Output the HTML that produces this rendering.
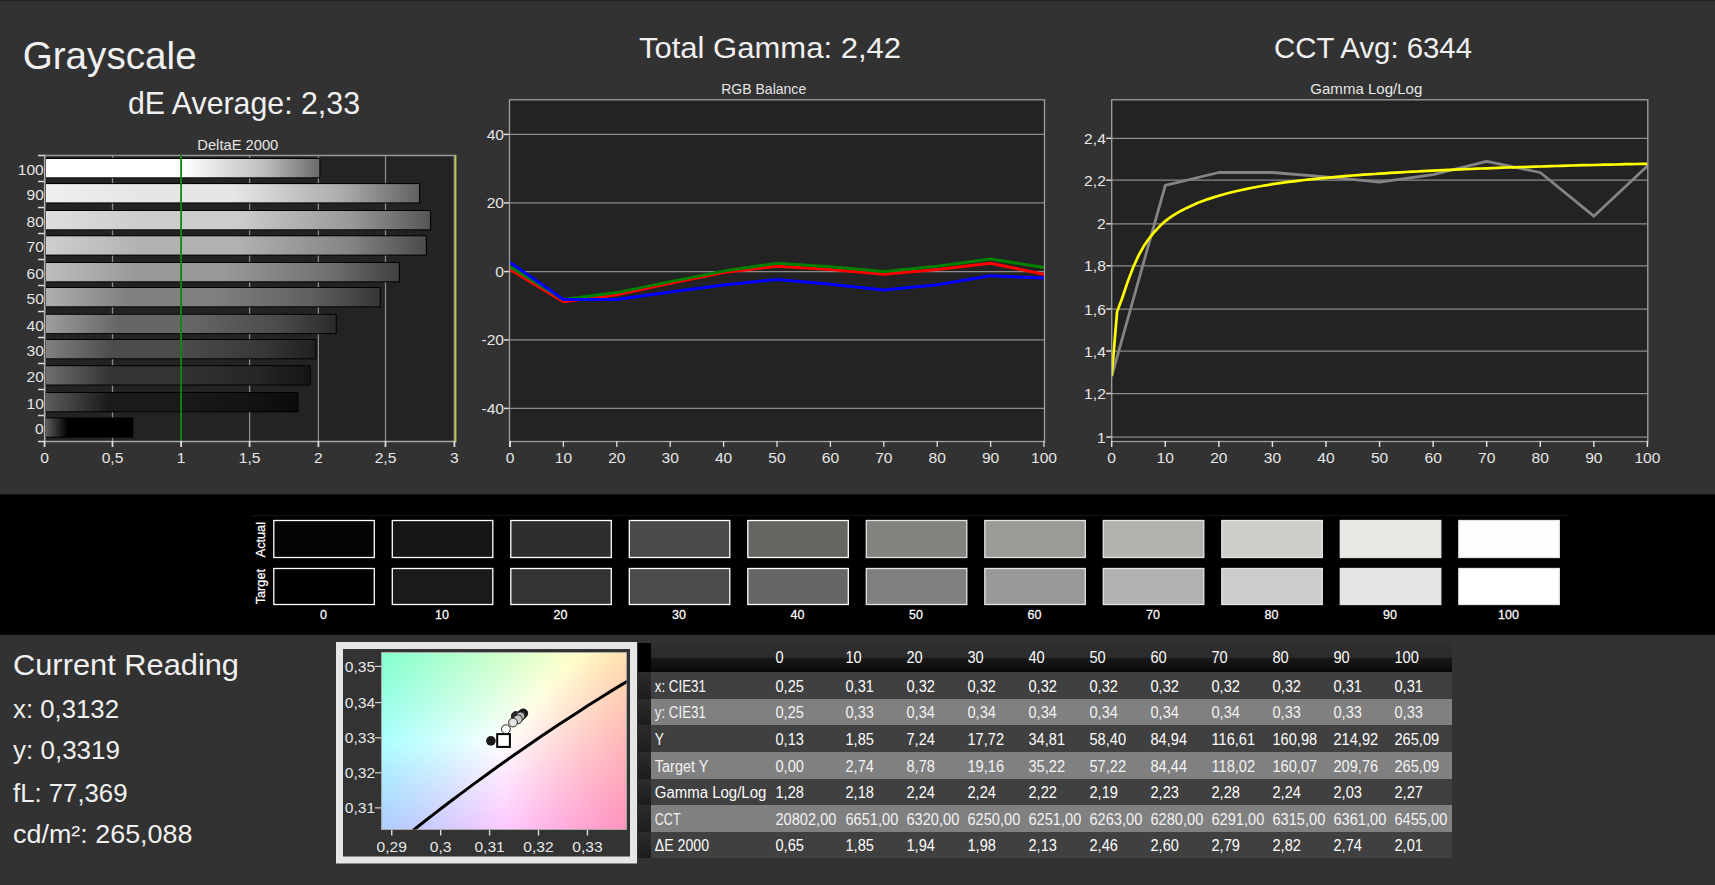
<!DOCTYPE html>
<html><head><meta charset="utf-8"><title>Grayscale</title>
<style>html,body{margin:0;padding:0;background:#323232;overflow:hidden}svg{display:block}text{font-family:"Liberation Sans", sans-serif}</style>
</head><body>
<svg width="1715" height="885" viewBox="0 0 1715 885" font-family='"Liberation Sans", sans-serif'><rect x="0" y="0" width="1715" height="885" fill="#323232" />
<rect x="0" y="0" width="1715" height="1" fill="#222" />
<rect x="0" y="494.4" width="1715" height="140.4" fill="#000" />
<text x="22.7" y="69" font-size="38.5" fill="#f0f0f0" text-anchor="start" textLength="174" lengthAdjust="spacingAndGlyphs" >Grayscale</text>
<text x="128" y="114" font-size="30.5" fill="#f0f0f0" text-anchor="start" textLength="232" lengthAdjust="spacingAndGlyphs" >dE Average: 2,33</text>
<text x="639" y="57.6" font-size="30.2" fill="#f0f0f0" text-anchor="start" textLength="262" lengthAdjust="spacingAndGlyphs" >Total Gamma: 2,42</text>
<text x="1274" y="57.6" font-size="30.2" fill="#f0f0f0" text-anchor="start" textLength="198" lengthAdjust="spacingAndGlyphs" >CCT Avg: 6344</text>
<text x="237.8" y="150" font-size="15" fill="#e6e6e6" text-anchor="middle" textLength="81" lengthAdjust="spacingAndGlyphs" >DeltaE 2000</text>
<text x="763.7" y="93.8" font-size="15" fill="#e6e6e6" text-anchor="middle" textLength="85" lengthAdjust="spacingAndGlyphs" >RGB Balance</text>
<text x="1366.3" y="93.8" font-size="15" fill="#e6e6e6" text-anchor="middle" textLength="112" lengthAdjust="spacingAndGlyphs" >Gamma Log/Log</text>
<rect x="45" y="155" width="410" height="286" fill="#232323" />
<line x1="112.5" y1="155" x2="112.5" y2="441" stroke="#8c8c8c" stroke-width="1.25" />
<line x1="249.6" y1="155" x2="249.6" y2="441" stroke="#8c8c8c" stroke-width="1.25" />
<line x1="318.4" y1="155" x2="318.4" y2="441" stroke="#8c8c8c" stroke-width="1.25" />
<line x1="385.5" y1="155" x2="385.5" y2="441" stroke="#8c8c8c" stroke-width="1.25" />
<line x1="454.4" y1="155" x2="454.4" y2="441" stroke="#8c8c8c" stroke-width="1.25" />
<line x1="44" y1="155.5" x2="456" y2="155.5" stroke="#999" stroke-width="1.4" />
<defs>
<linearGradient id="b0" x1="0" x2="1" y1="0" y2="0"><stop offset="0" stop-color="#5c5c5c"/><stop offset="0.25" stop-color="#000000"/><stop offset="0.5" stop-color="#000000"/><stop offset="0.8" stop-color="#000000"/><stop offset="1" stop-color="#000000"/></linearGradient>
<linearGradient id="b10" x1="0" x2="1" y1="0" y2="0"><stop offset="0" stop-color="#5c5c5c"/><stop offset="0.25" stop-color="#1a1a1a"/><stop offset="0.5" stop-color="#1a1a1a"/><stop offset="0.8" stop-color="#131313"/><stop offset="1" stop-color="#0b0b0b"/></linearGradient>
<linearGradient id="b20" x1="0" x2="1" y1="0" y2="0"><stop offset="0" stop-color="#6e6e6e"/><stop offset="0.25" stop-color="#333333"/><stop offset="0.5" stop-color="#333333"/><stop offset="0.8" stop-color="#262626"/><stop offset="1" stop-color="#151515"/></linearGradient>
<linearGradient id="b30" x1="0" x2="1" y1="0" y2="0"><stop offset="0" stop-color="#808080"/><stop offset="0.25" stop-color="#4c4c4c"/><stop offset="0.5" stop-color="#4c4c4c"/><stop offset="0.8" stop-color="#383838"/><stop offset="1" stop-color="#202020"/></linearGradient>
<linearGradient id="b40" x1="0" x2="1" y1="0" y2="0"><stop offset="0" stop-color="#9d9d9d"/><stop offset="0.25" stop-color="#666666"/><stop offset="0.5" stop-color="#666666"/><stop offset="0.8" stop-color="#4b4b4b"/><stop offset="1" stop-color="#2b2b2b"/></linearGradient>
<linearGradient id="b50" x1="0" x2="1" y1="0" y2="0"><stop offset="0" stop-color="#aeaeae"/><stop offset="0.25" stop-color="#808080"/><stop offset="0.5" stop-color="#808080"/><stop offset="0.8" stop-color="#5f5f5f"/><stop offset="1" stop-color="#363636"/></linearGradient>
<linearGradient id="b60" x1="0" x2="1" y1="0" y2="0"><stop offset="0" stop-color="#bebebe"/><stop offset="0.25" stop-color="#999999"/><stop offset="0.5" stop-color="#999999"/><stop offset="0.8" stop-color="#717171"/><stop offset="1" stop-color="#404040"/></linearGradient>
<linearGradient id="b70" x1="0" x2="1" y1="0" y2="0"><stop offset="0" stop-color="#cecece"/><stop offset="0.25" stop-color="#b2b2b2"/><stop offset="0.5" stop-color="#b2b2b2"/><stop offset="0.8" stop-color="#848484"/><stop offset="1" stop-color="#4b4b4b"/></linearGradient>
<linearGradient id="b80" x1="0" x2="1" y1="0" y2="0"><stop offset="0" stop-color="#dedede"/><stop offset="0.25" stop-color="#cccccc"/><stop offset="0.5" stop-color="#cccccc"/><stop offset="0.8" stop-color="#979797"/><stop offset="1" stop-color="#565656"/></linearGradient>
<linearGradient id="b90" x1="0" x2="1" y1="0" y2="0"><stop offset="0" stop-color="#efefef"/><stop offset="0.25" stop-color="#e6e6e6"/><stop offset="0.5" stop-color="#e6e6e6"/><stop offset="0.8" stop-color="#aaaaaa"/><stop offset="1" stop-color="#616161"/></linearGradient>
<linearGradient id="b100" x1="0" x2="1" y1="0" y2="0"><stop offset="0" stop-color="#ffffff"/><stop offset="0.25" stop-color="#ffffff"/><stop offset="0.5" stop-color="#ffffff"/><stop offset="0.8" stop-color="#bdbdbd"/><stop offset="1" stop-color="#6b6b6b"/></linearGradient>
</defs>
<rect x="45" y="158" width="275.348" height="20.3" fill="#000" />
<rect x="46" y="159" width="273.348" height="18.3" fill="url(#b100)" />
<text transform="translate(43.8,174.9) scale(1.04,1)" font-size="15" fill="#e6e6e6" text-anchor="end" >100</text>
<rect x="45" y="183.1" width="374.993" height="20.3" fill="#000" />
<rect x="46" y="184.1" width="372.993" height="18.3" fill="url(#b90)" />
<text transform="translate(43.8,200) scale(1.04,1)" font-size="15" fill="#e6e6e6" text-anchor="end" >90</text>
<rect x="45" y="210" width="385.913" height="20.3" fill="#000" />
<rect x="46" y="211" width="383.913" height="18.3" fill="url(#b80)" />
<text transform="translate(43.8,226.9) scale(1.04,1)" font-size="15" fill="#e6e6e6" text-anchor="end" >80</text>
<rect x="45" y="235.3" width="381.817" height="20.3" fill="#000" />
<rect x="46" y="236.3" width="379.817" height="18.3" fill="url(#b70)" />
<text transform="translate(43.8,252.2) scale(1.04,1)" font-size="15" fill="#e6e6e6" text-anchor="end" >70</text>
<rect x="45" y="262" width="354.927" height="20.3" fill="#000" />
<rect x="46" y="263" width="352.927" height="18.3" fill="url(#b60)" />
<text transform="translate(43.8,278.9) scale(1.04,1)" font-size="15" fill="#e6e6e6" text-anchor="end" >60</text>
<rect x="45" y="287" width="335.68" height="20.3" fill="#000" />
<rect x="46" y="288" width="333.68" height="18.3" fill="url(#b50)" />
<text transform="translate(43.8,303.9) scale(1.04,1)" font-size="15" fill="#e6e6e6" text-anchor="end" >50</text>
<rect x="45" y="313.8" width="291.727" height="20.3" fill="#000" />
<rect x="46" y="314.8" width="289.727" height="18.3" fill="url(#b40)" />
<text transform="translate(43.8,330.7) scale(1.04,1)" font-size="15" fill="#e6e6e6" text-anchor="end" >40</text>
<rect x="45" y="339" width="271.252" height="20.3" fill="#000" />
<rect x="46" y="340" width="269.252" height="18.3" fill="url(#b30)" />
<text transform="translate(43.8,355.9) scale(1.04,1)" font-size="15" fill="#e6e6e6" text-anchor="end" >30</text>
<rect x="45" y="365.2" width="265.793" height="20.3" fill="#000" />
<rect x="46" y="366.2" width="263.793" height="18.3" fill="url(#b20)" />
<text transform="translate(43.8,382.1) scale(1.04,1)" font-size="15" fill="#e6e6e6" text-anchor="end" >20</text>
<rect x="45" y="392" width="253.508" height="20.3" fill="#000" />
<rect x="46" y="393" width="251.508" height="18.3" fill="url(#b10)" />
<text transform="translate(43.8,408.9) scale(1.04,1)" font-size="15" fill="#e6e6e6" text-anchor="end" >10</text>
<rect x="45" y="417.4" width="88.3425" height="20.3" fill="#000" />
<rect x="46" y="418.4" width="86.3425" height="18.3" fill="url(#b0)" />
<text transform="translate(43.8,434.3) scale(1.04,1)" font-size="15" fill="#e6e6e6" text-anchor="end" >0</text>
<line x1="38" y1="155.5" x2="45" y2="155.5" stroke="#ddd" stroke-width="1.5" />
<line x1="38" y1="181.5" x2="45" y2="181.5" stroke="#ddd" stroke-width="1.5" />
<line x1="38" y1="207.5" x2="45" y2="207.5" stroke="#ddd" stroke-width="1.5" />
<line x1="38" y1="233.5" x2="45" y2="233.5" stroke="#ddd" stroke-width="1.5" />
<line x1="38" y1="259.5" x2="45" y2="259.5" stroke="#ddd" stroke-width="1.5" />
<line x1="38" y1="285.5" x2="45" y2="285.5" stroke="#ddd" stroke-width="1.5" />
<line x1="38" y1="311.5" x2="45" y2="311.5" stroke="#ddd" stroke-width="1.5" />
<line x1="38" y1="337.5" x2="45" y2="337.5" stroke="#ddd" stroke-width="1.5" />
<line x1="38" y1="363.5" x2="45" y2="363.5" stroke="#ddd" stroke-width="1.5" />
<line x1="38" y1="389.5" x2="45" y2="389.5" stroke="#ddd" stroke-width="1.5" />
<line x1="38" y1="415.5" x2="45" y2="415.5" stroke="#ddd" stroke-width="1.5" />
<line x1="38" y1="441.5" x2="45" y2="441.5" stroke="#ddd" stroke-width="1.5" />
<line x1="181.1" y1="155" x2="181.1" y2="442" stroke="#0a8a0a" stroke-width="1.8" />
<line x1="44.7" y1="155" x2="44.7" y2="442" stroke="#b4b4b4" stroke-width="1.6" />
<line x1="44" y1="441.4" x2="456" y2="441.4" stroke="#a8a8a8" stroke-width="1.5" />
<line x1="454.4" y1="155" x2="454.4" y2="441" stroke="#909090" stroke-width="1.2" />
<line x1="455.7" y1="155" x2="455.7" y2="442" stroke="#c8c840" stroke-width="1.4" />
<line x1="44.5" y1="441" x2="44.5" y2="447" stroke="#ddd" stroke-width="1.8" />
<text transform="translate(44.5,463) scale(1.04,1)" font-size="15" fill="#e6e6e6" text-anchor="middle" >0</text>
<line x1="112.5" y1="441" x2="112.5" y2="447" stroke="#ddd" stroke-width="1.8" />
<text transform="translate(112.5,463) scale(1.04,1)" font-size="15" fill="#e6e6e6" text-anchor="middle" >0,5</text>
<line x1="181.1" y1="441" x2="181.1" y2="447" stroke="#ddd" stroke-width="1.8" />
<text transform="translate(181.1,463) scale(1.04,1)" font-size="15" fill="#e6e6e6" text-anchor="middle" >1</text>
<line x1="249.6" y1="441" x2="249.6" y2="447" stroke="#ddd" stroke-width="1.8" />
<text transform="translate(249.6,463) scale(1.04,1)" font-size="15" fill="#e6e6e6" text-anchor="middle" >1,5</text>
<line x1="318.4" y1="441" x2="318.4" y2="447" stroke="#ddd" stroke-width="1.8" />
<text transform="translate(318.4,463) scale(1.04,1)" font-size="15" fill="#e6e6e6" text-anchor="middle" >2</text>
<line x1="385.5" y1="441" x2="385.5" y2="447" stroke="#ddd" stroke-width="1.8" />
<text transform="translate(385.5,463) scale(1.04,1)" font-size="15" fill="#e6e6e6" text-anchor="middle" >2,5</text>
<line x1="454.4" y1="441" x2="454.4" y2="447" stroke="#ddd" stroke-width="1.8" />
<text transform="translate(454.4,463) scale(1.04,1)" font-size="15" fill="#e6e6e6" text-anchor="middle" >3</text>
<rect x="510" y="99.3" width="534" height="341.7" fill="#232323" />
<line x1="510" y1="134.4" x2="1044" y2="134.4" stroke="#8c8c8c" stroke-width="1.25" />
<line x1="504" y1="134.4" x2="510" y2="134.4" stroke="#e0e0e0" stroke-width="1.5" />
<text transform="translate(504,139.7) scale(1.04,1)" font-size="15" fill="#e6e6e6" text-anchor="end" >40</text>
<line x1="510" y1="202.9" x2="1044" y2="202.9" stroke="#8c8c8c" stroke-width="1.25" />
<line x1="504" y1="202.9" x2="510" y2="202.9" stroke="#e0e0e0" stroke-width="1.5" />
<text transform="translate(504,208.2) scale(1.04,1)" font-size="15" fill="#e6e6e6" text-anchor="end" >20</text>
<line x1="510" y1="271.6" x2="1044" y2="271.6" stroke="#8c8c8c" stroke-width="1.25" />
<line x1="504" y1="271.6" x2="510" y2="271.6" stroke="#e0e0e0" stroke-width="1.5" />
<text transform="translate(504,276.9) scale(1.04,1)" font-size="15" fill="#e6e6e6" text-anchor="end" >0</text>
<line x1="510" y1="339.9" x2="1044" y2="339.9" stroke="#8c8c8c" stroke-width="1.25" />
<line x1="504" y1="339.9" x2="510" y2="339.9" stroke="#e0e0e0" stroke-width="1.5" />
<text transform="translate(504,345.2) scale(1.04,1)" font-size="15" fill="#e6e6e6" text-anchor="end" >-20</text>
<line x1="510" y1="408.4" x2="1044" y2="408.4" stroke="#8c8c8c" stroke-width="1.25" />
<line x1="504" y1="408.4" x2="510" y2="408.4" stroke="#e0e0e0" stroke-width="1.5" />
<text transform="translate(504,413.7) scale(1.04,1)" font-size="15" fill="#e6e6e6" text-anchor="end" >-40</text>
<clipPath id="rc"><rect x="510" y="99.3" width="534" height="341.7"/></clipPath>
<polyline points="510.0,269.4 563.4,301.7 616.8,294.7 670.2,283.4 723.6,272.5 777.0,266.2 830.4,269.4 883.8,274.3 937.2,269.4 990.6,263.2 1044.0,274.3" fill="none" stroke="#ff0000" stroke-width="3" stroke-linejoin="round" clip-path="url(#rc)"/>
<polyline points="510.0,266.7 563.4,299.6 616.8,292.6 670.2,281.6 723.6,271.1 777.0,263.2 830.4,266.7 883.8,271.5 937.2,266.2 990.6,258.9 1044.0,267.6" fill="none" stroke="#008000" stroke-width="3" stroke-linejoin="round" clip-path="url(#rc)"/>
<polyline points="510.0,262.4 563.4,299.6 616.8,299.6 670.2,292.0 723.6,285.0 777.0,279.5 830.4,284.2 883.8,290.0 937.2,284.7 990.6,275.8 1044.0,278.1" fill="none" stroke="#0000ff" stroke-width="3" stroke-linejoin="round" clip-path="url(#rc)"/>
<rect x="509.5" y="99.8" width="535" height="341.7" fill="none" stroke="#a0a0a0" stroke-width="1.3"/>
<line x1="510" y1="441" x2="510" y2="447" stroke="#ddd" stroke-width="2" />
<text transform="translate(510,463.3) scale(1.04,1)" font-size="15" fill="#e6e6e6" text-anchor="middle" >0</text>
<line x1="563.4" y1="441" x2="563.4" y2="447" stroke="#ddd" stroke-width="1.3" />
<text transform="translate(563.4,463.3) scale(1.04,1)" font-size="15" fill="#e6e6e6" text-anchor="middle" >10</text>
<line x1="616.8" y1="441" x2="616.8" y2="447" stroke="#ddd" stroke-width="1.3" />
<text transform="translate(616.8,463.3) scale(1.04,1)" font-size="15" fill="#e6e6e6" text-anchor="middle" >20</text>
<line x1="670.2" y1="441" x2="670.2" y2="447" stroke="#ddd" stroke-width="1.3" />
<text transform="translate(670.2,463.3) scale(1.04,1)" font-size="15" fill="#e6e6e6" text-anchor="middle" >30</text>
<line x1="723.6" y1="441" x2="723.6" y2="447" stroke="#ddd" stroke-width="1.3" />
<text transform="translate(723.6,463.3) scale(1.04,1)" font-size="15" fill="#e6e6e6" text-anchor="middle" >40</text>
<line x1="777" y1="441" x2="777" y2="447" stroke="#ddd" stroke-width="1.3" />
<text transform="translate(777,463.3) scale(1.04,1)" font-size="15" fill="#e6e6e6" text-anchor="middle" >50</text>
<line x1="830.4" y1="441" x2="830.4" y2="447" stroke="#ddd" stroke-width="1.3" />
<text transform="translate(830.4,463.3) scale(1.04,1)" font-size="15" fill="#e6e6e6" text-anchor="middle" >60</text>
<line x1="883.8" y1="441" x2="883.8" y2="447" stroke="#ddd" stroke-width="1.3" />
<text transform="translate(883.8,463.3) scale(1.04,1)" font-size="15" fill="#e6e6e6" text-anchor="middle" >70</text>
<line x1="937.2" y1="441" x2="937.2" y2="447" stroke="#ddd" stroke-width="1.3" />
<text transform="translate(937.2,463.3) scale(1.04,1)" font-size="15" fill="#e6e6e6" text-anchor="middle" >80</text>
<line x1="990.6" y1="441" x2="990.6" y2="447" stroke="#ddd" stroke-width="1.3" />
<text transform="translate(990.6,463.3) scale(1.04,1)" font-size="15" fill="#e6e6e6" text-anchor="middle" >90</text>
<line x1="1044" y1="441" x2="1044" y2="447" stroke="#ddd" stroke-width="1.3" />
<text transform="translate(1044,463.3) scale(1.04,1)" font-size="15" fill="#e6e6e6" text-anchor="middle" >100</text>
<rect x="1112.2" y="99.3" width="535.1" height="341.7" fill="#232323" />
<line x1="1112.2" y1="437.1" x2="1647.3" y2="437.1" stroke="#8c8c8c" stroke-width="1.25" />
<line x1="1106.2" y1="437.1" x2="1112.2" y2="437.1" stroke="#e0e0e0" stroke-width="1.5" />
<text transform="translate(1105.8,442.7) scale(1.04,1)" font-size="15" fill="#e6e6e6" text-anchor="end" >1</text>
<line x1="1112.2" y1="393.5" x2="1647.3" y2="393.5" stroke="#8c8c8c" stroke-width="1.25" />
<line x1="1106.2" y1="393.5" x2="1112.2" y2="393.5" stroke="#e0e0e0" stroke-width="1.5" />
<text transform="translate(1105.8,399.1) scale(1.04,1)" font-size="15" fill="#e6e6e6" text-anchor="end" >1,2</text>
<line x1="1112.2" y1="351" x2="1647.3" y2="351" stroke="#8c8c8c" stroke-width="1.25" />
<line x1="1106.2" y1="351" x2="1112.2" y2="351" stroke="#e0e0e0" stroke-width="1.5" />
<text transform="translate(1105.8,356.6) scale(1.04,1)" font-size="15" fill="#e6e6e6" text-anchor="end" >1,4</text>
<line x1="1112.2" y1="309" x2="1647.3" y2="309" stroke="#8c8c8c" stroke-width="1.25" />
<line x1="1106.2" y1="309" x2="1112.2" y2="309" stroke="#e0e0e0" stroke-width="1.5" />
<text transform="translate(1105.8,314.6) scale(1.04,1)" font-size="15" fill="#e6e6e6" text-anchor="end" >1,6</text>
<line x1="1112.2" y1="265.8" x2="1647.3" y2="265.8" stroke="#8c8c8c" stroke-width="1.25" />
<line x1="1106.2" y1="265.8" x2="1112.2" y2="265.8" stroke="#e0e0e0" stroke-width="1.5" />
<text transform="translate(1105.8,271.4) scale(1.04,1)" font-size="15" fill="#e6e6e6" text-anchor="end" >1,8</text>
<line x1="1112.2" y1="223.8" x2="1647.3" y2="223.8" stroke="#8c8c8c" stroke-width="1.25" />
<line x1="1106.2" y1="223.8" x2="1112.2" y2="223.8" stroke="#e0e0e0" stroke-width="1.5" />
<text transform="translate(1105.8,229.4) scale(1.04,1)" font-size="15" fill="#e6e6e6" text-anchor="end" >2</text>
<line x1="1112.2" y1="180.2" x2="1647.3" y2="180.2" stroke="#8c8c8c" stroke-width="1.25" />
<line x1="1106.2" y1="180.2" x2="1112.2" y2="180.2" stroke="#e0e0e0" stroke-width="1.5" />
<text transform="translate(1105.8,185.8) scale(1.04,1)" font-size="15" fill="#e6e6e6" text-anchor="end" >2,2</text>
<line x1="1112.2" y1="138.3" x2="1647.3" y2="138.3" stroke="#8c8c8c" stroke-width="1.25" />
<line x1="1106.2" y1="138.3" x2="1112.2" y2="138.3" stroke="#e0e0e0" stroke-width="1.5" />
<text transform="translate(1105.8,143.9) scale(1.04,1)" font-size="15" fill="#e6e6e6" text-anchor="end" >2,4</text>
<clipPath id="gc"><rect x="1111.2" y="99.3" width="537.0999999999999" height="341.7"/></clipPath>
<polyline points="1111.7,376.1 1165.3,185.3 1218.8,172.5 1272.4,172.5 1326.0,176.8 1379.6,182.1 1433.1,174.6 1486.7,161.4 1540.3,172.5 1593.8,216.2 1647.4,166.1" fill="none" stroke="#848484" stroke-width="2.8" stroke-linejoin="round" clip-path="url(#gc)"/>
<polyline points="1111.7,376.1 1117.1,311.6 1122.4,297.5 1127.8,281.4 1133.1,267.5 1138.5,255.6 1143.8,246.1 1149.2,238.3 1154.6,231.7 1159.9,226.1 1165.3,221.1 1170.6,217.2 1176.0,213.7 1181.3,210.7 1186.7,207.9 1192.1,205.4 1197.4,203.1 1202.8,201.0 1208.1,199.1 1213.5,197.4 1218.8,195.7 1224.2,194.2 1229.6,192.8 1234.9,191.5 1240.3,190.3 1245.6,189.1 1251.0,188.0 1256.3,187.0 1261.7,186.0 1267.1,185.1 1272.4,184.2 1277.8,183.4 1283.1,182.6 1288.5,181.9 1293.8,181.3 1299.2,180.6 1304.6,180.0 1309.9,179.4 1315.3,178.8 1320.6,178.3 1326.0,177.8 1331.3,177.3 1336.7,176.8 1342.1,176.4 1347.4,175.9 1352.8,175.5 1358.1,175.1 1363.5,174.7 1368.8,174.3 1374.2,174.0 1379.6,173.6 1384.9,173.3 1390.3,172.9 1395.6,172.6 1401.0,172.3 1406.3,172.0 1411.7,171.7 1417.0,171.5 1422.4,171.2 1427.8,170.9 1433.1,170.7 1438.5,170.4 1443.8,170.1 1449.2,169.9 1454.5,169.7 1459.9,169.4 1465.3,169.2 1470.6,169.0 1476.0,168.7 1481.3,168.5 1486.7,168.3 1492.0,168.1 1497.4,167.9 1502.8,167.7 1508.1,167.5 1513.5,167.3 1518.8,167.1 1524.2,167.0 1529.5,166.8 1534.9,166.6 1540.3,166.5 1545.6,166.3 1551.0,166.1 1556.3,166.0 1561.7,165.8 1567.0,165.7 1572.4,165.5 1577.8,165.4 1583.1,165.2 1588.5,165.1 1593.8,165.0 1599.2,164.8 1604.5,164.7 1609.9,164.6 1615.3,164.5 1620.6,164.3 1626.0,164.2 1631.3,164.1 1636.7,164.0 1642.0,163.9 1647.4,163.8" fill="none" stroke="#ffff00" stroke-width="2.7" stroke-linejoin="round" clip-path="url(#gc)"/>
<rect x="1111.7" y="99.8" width="536.0999999999999" height="341.7" fill="none" stroke="#a0a0a0" stroke-width="1.3"/>
<line x1="1111.7" y1="441" x2="1111.7" y2="447" stroke="#ddd" stroke-width="1.5" />
<text transform="translate(1111.7,463.3) scale(1.04,1)" font-size="15" fill="#e6e6e6" text-anchor="middle" >0</text>
<line x1="1165.27" y1="441" x2="1165.27" y2="447" stroke="#ddd" stroke-width="1.5" />
<text transform="translate(1165.27,463.3) scale(1.04,1)" font-size="15" fill="#e6e6e6" text-anchor="middle" >10</text>
<line x1="1218.84" y1="441" x2="1218.84" y2="447" stroke="#ddd" stroke-width="1.5" />
<text transform="translate(1218.84,463.3) scale(1.04,1)" font-size="15" fill="#e6e6e6" text-anchor="middle" >20</text>
<line x1="1272.41" y1="441" x2="1272.41" y2="447" stroke="#ddd" stroke-width="1.5" />
<text transform="translate(1272.41,463.3) scale(1.04,1)" font-size="15" fill="#e6e6e6" text-anchor="middle" >30</text>
<line x1="1325.98" y1="441" x2="1325.98" y2="447" stroke="#ddd" stroke-width="1.5" />
<text transform="translate(1325.98,463.3) scale(1.04,1)" font-size="15" fill="#e6e6e6" text-anchor="middle" >40</text>
<line x1="1379.55" y1="441" x2="1379.55" y2="447" stroke="#ddd" stroke-width="1.5" />
<text transform="translate(1379.55,463.3) scale(1.04,1)" font-size="15" fill="#e6e6e6" text-anchor="middle" >50</text>
<line x1="1433.12" y1="441" x2="1433.12" y2="447" stroke="#ddd" stroke-width="1.5" />
<text transform="translate(1433.12,463.3) scale(1.04,1)" font-size="15" fill="#e6e6e6" text-anchor="middle" >60</text>
<line x1="1486.69" y1="441" x2="1486.69" y2="447" stroke="#ddd" stroke-width="1.5" />
<text transform="translate(1486.69,463.3) scale(1.04,1)" font-size="15" fill="#e6e6e6" text-anchor="middle" >70</text>
<line x1="1540.26" y1="441" x2="1540.26" y2="447" stroke="#ddd" stroke-width="1.5" />
<text transform="translate(1540.26,463.3) scale(1.04,1)" font-size="15" fill="#e6e6e6" text-anchor="middle" >80</text>
<line x1="1593.83" y1="441" x2="1593.83" y2="447" stroke="#ddd" stroke-width="1.5" />
<text transform="translate(1593.83,463.3) scale(1.04,1)" font-size="15" fill="#e6e6e6" text-anchor="middle" >90</text>
<line x1="1647.4" y1="441" x2="1647.4" y2="447" stroke="#ddd" stroke-width="1.5" />
<text transform="translate(1647.4,463.3) scale(1.04,1)" font-size="15" fill="#e6e6e6" text-anchor="middle" >100</text>
<line x1="252" y1="515.5" x2="1569" y2="515.5" stroke="#141414" stroke-width="1" />
<rect x="273.8" y="520.5" width="100.5" height="37" fill="#030406" stroke="#ffffff" stroke-width="1.3"/>
<rect x="273.8" y="568.5" width="100.5" height="36" fill="#000000" stroke="#ffffff" stroke-width="1.3"/>
<text transform="translate(323.5,618.6) scale(0.96,1)" font-size="13" fill="#fff" text-anchor="middle" stroke="#fff" stroke-width="0.25">0</text>
<rect x="392.3" y="520.5" width="100.5" height="37" fill="#161616" stroke="#ffffff" stroke-width="1.3"/>
<rect x="392.3" y="568.5" width="100.5" height="36" fill="#1a1a1a" stroke="#ffffff" stroke-width="1.3"/>
<text transform="translate(442,618.6) scale(0.96,1)" font-size="13" fill="#fff" text-anchor="middle" stroke="#fff" stroke-width="0.25">10</text>
<rect x="510.8" y="520.5" width="100.5" height="37" fill="#2e2e2d" stroke="#ffffff" stroke-width="1.3"/>
<rect x="510.8" y="568.5" width="100.5" height="36" fill="#333333" stroke="#ffffff" stroke-width="1.3"/>
<text transform="translate(560.5,618.6) scale(0.96,1)" font-size="13" fill="#fff" text-anchor="middle" stroke="#fff" stroke-width="0.25">20</text>
<rect x="629.3" y="520.5" width="100.5" height="37" fill="#4a4a48" stroke="#ffffff" stroke-width="1.3"/>
<rect x="629.3" y="568.5" width="100.5" height="36" fill="#4c4c4c" stroke="#ffffff" stroke-width="1.3"/>
<text transform="translate(679,618.6) scale(0.96,1)" font-size="13" fill="#fff" text-anchor="middle" stroke="#fff" stroke-width="0.25">30</text>
<rect x="747.8" y="520.5" width="100.5" height="37" fill="#656661" stroke="#ffffff" stroke-width="1.3"/>
<rect x="747.8" y="568.5" width="100.5" height="36" fill="#666666" stroke="#ffffff" stroke-width="1.3"/>
<text transform="translate(797.5,618.6) scale(0.96,1)" font-size="13" fill="#fff" text-anchor="middle" stroke="#fff" stroke-width="0.25">40</text>
<rect x="866.3" y="520.5" width="100.5" height="37" fill="#82837e" stroke="#e4e4e4" stroke-width="1.3"/>
<rect x="866.3" y="568.5" width="100.5" height="36" fill="#808080" stroke="#e4e4e4" stroke-width="1.3"/>
<text transform="translate(916,618.6) scale(0.96,1)" font-size="13" fill="#fff" text-anchor="middle" stroke="#fff" stroke-width="0.25">50</text>
<rect x="984.8" y="520.5" width="100.5" height="37" fill="#9a9b96" stroke="#e4e4e4" stroke-width="1.3"/>
<rect x="984.8" y="568.5" width="100.5" height="36" fill="#999999" stroke="#e4e4e4" stroke-width="1.3"/>
<text transform="translate(1034.5,618.6) scale(0.96,1)" font-size="13" fill="#fff" text-anchor="middle" stroke="#fff" stroke-width="0.25">60</text>
<rect x="1103.3" y="520.5" width="100.5" height="37" fill="#b2b3ae" stroke="#e4e4e4" stroke-width="1.3"/>
<rect x="1103.3" y="568.5" width="100.5" height="36" fill="#b2b2b2" stroke="#e4e4e4" stroke-width="1.3"/>
<text transform="translate(1153,618.6) scale(0.96,1)" font-size="13" fill="#fff" text-anchor="middle" stroke="#fff" stroke-width="0.25">70</text>
<rect x="1221.8" y="520.5" width="100.5" height="37" fill="#cdcec9" stroke="#e4e4e4" stroke-width="1.3"/>
<rect x="1221.8" y="568.5" width="100.5" height="36" fill="#cccccc" stroke="#e4e4e4" stroke-width="1.3"/>
<text transform="translate(1271.5,618.6) scale(0.96,1)" font-size="13" fill="#fff" text-anchor="middle" stroke="#fff" stroke-width="0.25">80</text>
<rect x="1340.3" y="520.5" width="100.5" height="37" fill="#e8e9e4" stroke="#e4e4e4" stroke-width="1.3"/>
<rect x="1340.3" y="568.5" width="100.5" height="36" fill="#e6e6e6" stroke="#e4e4e4" stroke-width="1.3"/>
<text transform="translate(1390,618.6) scale(0.96,1)" font-size="13" fill="#fff" text-anchor="middle" stroke="#fff" stroke-width="0.25">90</text>
<rect x="1458.8" y="520.5" width="100.5" height="37" fill="#fdfffd" stroke="#e4e4e4" stroke-width="1.3"/>
<rect x="1458.8" y="568.5" width="100.5" height="36" fill="#ffffff" stroke="#e4e4e4" stroke-width="1.3"/>
<text transform="translate(1508.5,618.6) scale(0.96,1)" font-size="13" fill="#fff" text-anchor="middle" stroke="#fff" stroke-width="0.25">100</text>
<text transform="translate(264.5,557.3) rotate(-90)" font-size="13" fill="#fff" stroke="#fff" stroke-width="0.25" textLength="35.3" lengthAdjust="spacingAndGlyphs">Actual</text>
<text transform="translate(264.5,604.3) rotate(-90)" font-size="13" fill="#fff" stroke="#fff" stroke-width="0.25" textLength="35.3" lengthAdjust="spacingAndGlyphs">Target</text>
<text x="13" y="675.1" font-size="29.5" fill="#f0f0f0" text-anchor="start" textLength="226" lengthAdjust="spacingAndGlyphs" >Current Reading</text>
<text x="13" y="717.5" font-size="26" fill="#f0f0f0" text-anchor="start" textLength="106" lengthAdjust="spacingAndGlyphs" >x: 0,3132</text>
<text x="13" y="759.3" font-size="26" fill="#f0f0f0" text-anchor="start" textLength="107" lengthAdjust="spacingAndGlyphs" >y: 0,3319</text>
<text x="13" y="801.7" font-size="26" fill="#f0f0f0" text-anchor="start" textLength="114.5" lengthAdjust="spacingAndGlyphs" >fL: 77,369</text>
<text x="13" y="843.3" font-size="26" fill="#f0f0f0" text-anchor="start" textLength="179.5" lengthAdjust="spacingAndGlyphs" >cd/m²: 265,088</text>
<rect x="336" y="642" width="301" height="221.5" fill="#e6e6e6" />
<rect x="343" y="649" width="287" height="207.5" fill="#333" />
<defs>
<linearGradient id="c0"><stop offset="0" stop-color="#86ffce"/><stop offset="0.08333" stop-color="#91ffcd"/><stop offset="0.1667" stop-color="#9dffcd"/><stop offset="0.25" stop-color="#a9ffcc"/><stop offset="0.3333" stop-color="#b5ffcc"/><stop offset="0.4167" stop-color="#c2ffcb"/><stop offset="0.5" stop-color="#cfffca"/><stop offset="0.5833" stop-color="#dcffca"/><stop offset="0.6667" stop-color="#eaffc9"/><stop offset="0.75" stop-color="#f7ffc9"/><stop offset="0.8333" stop-color="#fff9c3"/><stop offset="0.9167" stop-color="#ffecb8"/><stop offset="1" stop-color="#ffe0ae"/></linearGradient>
<linearGradient id="c1"><stop offset="0" stop-color="#87ffcf"/><stop offset="0.08333" stop-color="#92ffce"/><stop offset="0.1667" stop-color="#9effce"/><stop offset="0.25" stop-color="#aaffcd"/><stop offset="0.3333" stop-color="#b6ffcd"/><stop offset="0.4167" stop-color="#c3ffcc"/><stop offset="0.5" stop-color="#d0ffcb"/><stop offset="0.5833" stop-color="#ddffcb"/><stop offset="0.6667" stop-color="#ebffca"/><stop offset="0.75" stop-color="#f8ffca"/><stop offset="0.8333" stop-color="#fff8c3"/><stop offset="0.9167" stop-color="#ffebb9"/><stop offset="1" stop-color="#ffdfaf"/></linearGradient>
<linearGradient id="c2"><stop offset="0" stop-color="#87ffd0"/><stop offset="0.08333" stop-color="#93ffcf"/><stop offset="0.1667" stop-color="#9fffcf"/><stop offset="0.25" stop-color="#abffce"/><stop offset="0.3333" stop-color="#b7ffce"/><stop offset="0.4167" stop-color="#c4ffcd"/><stop offset="0.5" stop-color="#d1ffcd"/><stop offset="0.5833" stop-color="#deffcc"/><stop offset="0.6667" stop-color="#ecffcb"/><stop offset="0.75" stop-color="#faffcb"/><stop offset="0.8333" stop-color="#fff7c3"/><stop offset="0.9167" stop-color="#ffeab9"/><stop offset="1" stop-color="#ffdeaf"/></linearGradient>
<linearGradient id="c3"><stop offset="0" stop-color="#88ffd1"/><stop offset="0.08333" stop-color="#94ffd0"/><stop offset="0.1667" stop-color="#a0ffd0"/><stop offset="0.25" stop-color="#acffcf"/><stop offset="0.3333" stop-color="#b8ffcf"/><stop offset="0.4167" stop-color="#c5ffce"/><stop offset="0.5" stop-color="#d2ffce"/><stop offset="0.5833" stop-color="#dfffcd"/><stop offset="0.6667" stop-color="#edffcc"/><stop offset="0.75" stop-color="#fbffcc"/><stop offset="0.8333" stop-color="#fff5c4"/><stop offset="0.9167" stop-color="#ffe9b9"/><stop offset="1" stop-color="#ffddaf"/></linearGradient>
<linearGradient id="c4"><stop offset="0" stop-color="#89ffd2"/><stop offset="0.08333" stop-color="#94ffd1"/><stop offset="0.1667" stop-color="#a0ffd1"/><stop offset="0.25" stop-color="#adffd0"/><stop offset="0.3333" stop-color="#b9ffd0"/><stop offset="0.4167" stop-color="#c6ffcf"/><stop offset="0.5" stop-color="#d3ffcf"/><stop offset="0.5833" stop-color="#e0ffce"/><stop offset="0.6667" stop-color="#eeffce"/><stop offset="0.75" stop-color="#fcffcd"/><stop offset="0.8333" stop-color="#fff4c4"/><stop offset="0.9167" stop-color="#ffe8b9"/><stop offset="1" stop-color="#ffdcaf"/></linearGradient>
<linearGradient id="c5"><stop offset="0" stop-color="#89ffd3"/><stop offset="0.08333" stop-color="#95ffd2"/><stop offset="0.1667" stop-color="#a1ffd2"/><stop offset="0.25" stop-color="#adffd1"/><stop offset="0.3333" stop-color="#baffd1"/><stop offset="0.4167" stop-color="#c7ffd0"/><stop offset="0.5" stop-color="#d4ffd0"/><stop offset="0.5833" stop-color="#e1ffcf"/><stop offset="0.6667" stop-color="#efffcf"/><stop offset="0.75" stop-color="#fdffce"/><stop offset="0.8333" stop-color="#fff3c4"/><stop offset="0.9167" stop-color="#ffe6b9"/><stop offset="1" stop-color="#ffdbaf"/></linearGradient>
<linearGradient id="c6"><stop offset="0" stop-color="#8affd4"/><stop offset="0.08333" stop-color="#96ffd3"/><stop offset="0.1667" stop-color="#a2ffd3"/><stop offset="0.25" stop-color="#aeffd2"/><stop offset="0.3333" stop-color="#bbffd2"/><stop offset="0.4167" stop-color="#c8ffd1"/><stop offset="0.5" stop-color="#d5ffd1"/><stop offset="0.5833" stop-color="#e2ffd0"/><stop offset="0.6667" stop-color="#f0ffd0"/><stop offset="0.75" stop-color="#feffcf"/><stop offset="0.8333" stop-color="#fff2c4"/><stop offset="0.9167" stop-color="#ffe5b9"/><stop offset="1" stop-color="#ffdab0"/></linearGradient>
<linearGradient id="c7"><stop offset="0" stop-color="#8bffd5"/><stop offset="0.08333" stop-color="#97ffd4"/><stop offset="0.1667" stop-color="#a3ffd4"/><stop offset="0.25" stop-color="#afffd3"/><stop offset="0.3333" stop-color="#bcffd3"/><stop offset="0.4167" stop-color="#c9ffd2"/><stop offset="0.5" stop-color="#d6ffd2"/><stop offset="0.5833" stop-color="#e3ffd1"/><stop offset="0.6667" stop-color="#f1ffd1"/><stop offset="0.75" stop-color="#ffffd0"/><stop offset="0.8333" stop-color="#fff1c4"/><stop offset="0.9167" stop-color="#ffe4ba"/><stop offset="1" stop-color="#ffd9b0"/></linearGradient>
<linearGradient id="c8"><stop offset="0" stop-color="#8cffd6"/><stop offset="0.08333" stop-color="#98ffd5"/><stop offset="0.1667" stop-color="#a4ffd5"/><stop offset="0.25" stop-color="#b0ffd4"/><stop offset="0.3333" stop-color="#bdffd4"/><stop offset="0.4167" stop-color="#caffd3"/><stop offset="0.5" stop-color="#d7ffd3"/><stop offset="0.5833" stop-color="#e4ffd2"/><stop offset="0.6667" stop-color="#f2ffd2"/><stop offset="0.75" stop-color="#fffed0"/><stop offset="0.8333" stop-color="#fff0c5"/><stop offset="0.9167" stop-color="#ffe3ba"/><stop offset="1" stop-color="#ffd8b0"/></linearGradient>
<linearGradient id="c9"><stop offset="0" stop-color="#8cffd7"/><stop offset="0.08333" stop-color="#98ffd6"/><stop offset="0.1667" stop-color="#a5ffd6"/><stop offset="0.25" stop-color="#b1ffd5"/><stop offset="0.3333" stop-color="#beffd5"/><stop offset="0.4167" stop-color="#cbffd5"/><stop offset="0.5" stop-color="#d8ffd4"/><stop offset="0.5833" stop-color="#e5ffd4"/><stop offset="0.6667" stop-color="#f3ffd3"/><stop offset="0.75" stop-color="#fffcd0"/><stop offset="0.8333" stop-color="#ffefc5"/><stop offset="0.9167" stop-color="#ffe2ba"/><stop offset="1" stop-color="#ffd7b0"/></linearGradient>
<linearGradient id="c10"><stop offset="0" stop-color="#8dffd8"/><stop offset="0.08333" stop-color="#99ffd7"/><stop offset="0.1667" stop-color="#a5ffd7"/><stop offset="0.25" stop-color="#b2ffd6"/><stop offset="0.3333" stop-color="#bfffd6"/><stop offset="0.4167" stop-color="#ccffd6"/><stop offset="0.5" stop-color="#d9ffd5"/><stop offset="0.5833" stop-color="#e7ffd5"/><stop offset="0.6667" stop-color="#f5ffd4"/><stop offset="0.75" stop-color="#fffbd1"/><stop offset="0.8333" stop-color="#ffeec5"/><stop offset="0.9167" stop-color="#ffe1ba"/><stop offset="1" stop-color="#ffd6b0"/></linearGradient>
<linearGradient id="c11"><stop offset="0" stop-color="#8effd9"/><stop offset="0.08333" stop-color="#9affd8"/><stop offset="0.1667" stop-color="#a6ffd8"/><stop offset="0.25" stop-color="#b3ffd8"/><stop offset="0.3333" stop-color="#bfffd7"/><stop offset="0.4167" stop-color="#cdffd7"/><stop offset="0.5" stop-color="#daffd6"/><stop offset="0.5833" stop-color="#e8ffd6"/><stop offset="0.6667" stop-color="#f6ffd5"/><stop offset="0.75" stop-color="#fffad1"/><stop offset="0.8333" stop-color="#ffedc5"/><stop offset="0.9167" stop-color="#ffe0ba"/><stop offset="1" stop-color="#ffd5b1"/></linearGradient>
<linearGradient id="c12"><stop offset="0" stop-color="#8fffda"/><stop offset="0.08333" stop-color="#9bffd9"/><stop offset="0.1667" stop-color="#a7ffd9"/><stop offset="0.25" stop-color="#b4ffd9"/><stop offset="0.3333" stop-color="#c0ffd8"/><stop offset="0.4167" stop-color="#ceffd8"/><stop offset="0.5" stop-color="#dbffd7"/><stop offset="0.5833" stop-color="#e9ffd7"/><stop offset="0.6667" stop-color="#f7ffd6"/><stop offset="0.75" stop-color="#fff9d1"/><stop offset="0.8333" stop-color="#ffecc5"/><stop offset="0.9167" stop-color="#ffdfbb"/><stop offset="1" stop-color="#ffd4b1"/></linearGradient>
<linearGradient id="c13"><stop offset="0" stop-color="#90ffdb"/><stop offset="0.08333" stop-color="#9cffdb"/><stop offset="0.1667" stop-color="#a8ffda"/><stop offset="0.25" stop-color="#b4ffda"/><stop offset="0.3333" stop-color="#c1ffd9"/><stop offset="0.4167" stop-color="#cfffd9"/><stop offset="0.5" stop-color="#dcffd9"/><stop offset="0.5833" stop-color="#eaffd8"/><stop offset="0.6667" stop-color="#f8ffd8"/><stop offset="0.75" stop-color="#fff8d1"/><stop offset="0.8333" stop-color="#ffeac5"/><stop offset="0.9167" stop-color="#ffdebb"/><stop offset="1" stop-color="#ffd3b1"/></linearGradient>
<linearGradient id="c14"><stop offset="0" stop-color="#90ffdc"/><stop offset="0.08333" stop-color="#9cffdc"/><stop offset="0.1667" stop-color="#a9ffdb"/><stop offset="0.25" stop-color="#b5ffdb"/><stop offset="0.3333" stop-color="#c2ffda"/><stop offset="0.4167" stop-color="#d0ffda"/><stop offset="0.5" stop-color="#ddffda"/><stop offset="0.5833" stop-color="#ebffd9"/><stop offset="0.6667" stop-color="#f9ffd9"/><stop offset="0.75" stop-color="#fff7d1"/><stop offset="0.8333" stop-color="#ffe9c6"/><stop offset="0.9167" stop-color="#ffddbb"/><stop offset="1" stop-color="#ffd2b1"/></linearGradient>
<linearGradient id="c15"><stop offset="0" stop-color="#91ffdd"/><stop offset="0.08333" stop-color="#9dffdd"/><stop offset="0.1667" stop-color="#aaffdc"/><stop offset="0.25" stop-color="#b6ffdc"/><stop offset="0.3333" stop-color="#c3ffdc"/><stop offset="0.4167" stop-color="#d1ffdb"/><stop offset="0.5" stop-color="#deffdb"/><stop offset="0.5833" stop-color="#ecffda"/><stop offset="0.6667" stop-color="#faffda"/><stop offset="0.75" stop-color="#fff5d1"/><stop offset="0.8333" stop-color="#ffe8c6"/><stop offset="0.9167" stop-color="#ffdcbb"/><stop offset="1" stop-color="#ffd1b1"/></linearGradient>
<linearGradient id="c16"><stop offset="0" stop-color="#92ffde"/><stop offset="0.08333" stop-color="#9effde"/><stop offset="0.1667" stop-color="#aaffdd"/><stop offset="0.25" stop-color="#b7ffdd"/><stop offset="0.3333" stop-color="#c4ffdd"/><stop offset="0.4167" stop-color="#d2ffdc"/><stop offset="0.5" stop-color="#dfffdc"/><stop offset="0.5833" stop-color="#edffdc"/><stop offset="0.6667" stop-color="#fbffdb"/><stop offset="0.75" stop-color="#fff4d2"/><stop offset="0.8333" stop-color="#ffe7c6"/><stop offset="0.9167" stop-color="#ffdbbb"/><stop offset="1" stop-color="#ffd0b1"/></linearGradient>
<linearGradient id="c17"><stop offset="0" stop-color="#93ffdf"/><stop offset="0.08333" stop-color="#9fffdf"/><stop offset="0.1667" stop-color="#abffde"/><stop offset="0.25" stop-color="#b8ffde"/><stop offset="0.3333" stop-color="#c5ffde"/><stop offset="0.4167" stop-color="#d3ffdd"/><stop offset="0.5" stop-color="#e0ffdd"/><stop offset="0.5833" stop-color="#eeffdd"/><stop offset="0.6667" stop-color="#fdffdc"/><stop offset="0.75" stop-color="#fff3d2"/><stop offset="0.8333" stop-color="#ffe6c6"/><stop offset="0.9167" stop-color="#ffdabc"/><stop offset="1" stop-color="#ffcfb2"/></linearGradient>
<linearGradient id="c18"><stop offset="0" stop-color="#93ffe0"/><stop offset="0.08333" stop-color="#a0ffe0"/><stop offset="0.1667" stop-color="#acffe0"/><stop offset="0.25" stop-color="#b9ffdf"/><stop offset="0.3333" stop-color="#c6ffdf"/><stop offset="0.4167" stop-color="#d4ffdf"/><stop offset="0.5" stop-color="#e1ffde"/><stop offset="0.5833" stop-color="#efffde"/><stop offset="0.6667" stop-color="#feffdd"/><stop offset="0.75" stop-color="#fff2d2"/><stop offset="0.8333" stop-color="#ffe5c6"/><stop offset="0.9167" stop-color="#ffd9bc"/><stop offset="1" stop-color="#ffceb2"/></linearGradient>
<linearGradient id="c19"><stop offset="0" stop-color="#94ffe1"/><stop offset="0.08333" stop-color="#a1ffe1"/><stop offset="0.1667" stop-color="#adffe1"/><stop offset="0.25" stop-color="#baffe0"/><stop offset="0.3333" stop-color="#c7ffe0"/><stop offset="0.4167" stop-color="#d5ffe0"/><stop offset="0.5" stop-color="#e2ffdf"/><stop offset="0.5833" stop-color="#f1ffdf"/><stop offset="0.6667" stop-color="#ffffdf"/><stop offset="0.75" stop-color="#fff1d2"/><stop offset="0.8333" stop-color="#ffe4c6"/><stop offset="0.9167" stop-color="#ffd8bc"/><stop offset="1" stop-color="#ffcdb2"/></linearGradient>
<linearGradient id="c20"><stop offset="0" stop-color="#95ffe2"/><stop offset="0.08333" stop-color="#a1ffe2"/><stop offset="0.1667" stop-color="#aeffe2"/><stop offset="0.25" stop-color="#bbffe2"/><stop offset="0.3333" stop-color="#c8ffe1"/><stop offset="0.4167" stop-color="#d6ffe1"/><stop offset="0.5" stop-color="#e4ffe1"/><stop offset="0.5833" stop-color="#f2ffe0"/><stop offset="0.6667" stop-color="#fffedf"/><stop offset="0.75" stop-color="#fff0d2"/><stop offset="0.8333" stop-color="#ffe3c7"/><stop offset="0.9167" stop-color="#ffd7bc"/><stop offset="1" stop-color="#ffccb2"/></linearGradient>
<linearGradient id="c21"><stop offset="0" stop-color="#96ffe4"/><stop offset="0.08333" stop-color="#a2ffe3"/><stop offset="0.1667" stop-color="#afffe3"/><stop offset="0.25" stop-color="#bcffe3"/><stop offset="0.3333" stop-color="#c9ffe2"/><stop offset="0.4167" stop-color="#d7ffe2"/><stop offset="0.5" stop-color="#e5ffe2"/><stop offset="0.5833" stop-color="#f3ffe1"/><stop offset="0.6667" stop-color="#fffddf"/><stop offset="0.75" stop-color="#ffefd2"/><stop offset="0.8333" stop-color="#ffe2c7"/><stop offset="0.9167" stop-color="#ffd6bc"/><stop offset="1" stop-color="#ffcbb2"/></linearGradient>
<linearGradient id="c22"><stop offset="0" stop-color="#97ffe5"/><stop offset="0.08333" stop-color="#a3ffe4"/><stop offset="0.1667" stop-color="#b0ffe4"/><stop offset="0.25" stop-color="#bdffe4"/><stop offset="0.3333" stop-color="#caffe3"/><stop offset="0.4167" stop-color="#d8ffe3"/><stop offset="0.5" stop-color="#e6ffe3"/><stop offset="0.5833" stop-color="#f4ffe3"/><stop offset="0.6667" stop-color="#fffbdf"/><stop offset="0.75" stop-color="#ffeed3"/><stop offset="0.8333" stop-color="#ffe1c7"/><stop offset="0.9167" stop-color="#ffd5bc"/><stop offset="1" stop-color="#ffcbb3"/></linearGradient>
<linearGradient id="c23"><stop offset="0" stop-color="#97ffe6"/><stop offset="0.08333" stop-color="#a4ffe5"/><stop offset="0.1667" stop-color="#b1ffe5"/><stop offset="0.25" stop-color="#beffe5"/><stop offset="0.3333" stop-color="#cbffe5"/><stop offset="0.4167" stop-color="#d9ffe4"/><stop offset="0.5" stop-color="#e7ffe4"/><stop offset="0.5833" stop-color="#f5ffe4"/><stop offset="0.6667" stop-color="#fffadf"/><stop offset="0.75" stop-color="#ffedd3"/><stop offset="0.8333" stop-color="#ffe0c7"/><stop offset="0.9167" stop-color="#ffd4bd"/><stop offset="1" stop-color="#ffcab3"/></linearGradient>
<linearGradient id="c24"><stop offset="0" stop-color="#98ffe7"/><stop offset="0.08333" stop-color="#a5ffe7"/><stop offset="0.1667" stop-color="#b2ffe6"/><stop offset="0.25" stop-color="#bfffe6"/><stop offset="0.3333" stop-color="#ccffe6"/><stop offset="0.4167" stop-color="#daffe6"/><stop offset="0.5" stop-color="#e8ffe5"/><stop offset="0.5833" stop-color="#f6ffe5"/><stop offset="0.6667" stop-color="#fff9df"/><stop offset="0.75" stop-color="#ffebd3"/><stop offset="0.8333" stop-color="#ffdfc7"/><stop offset="0.9167" stop-color="#ffd3bd"/><stop offset="1" stop-color="#ffc9b3"/></linearGradient>
<linearGradient id="c25"><stop offset="0" stop-color="#99ffe8"/><stop offset="0.08333" stop-color="#a6ffe8"/><stop offset="0.1667" stop-color="#b3ffe8"/><stop offset="0.25" stop-color="#c0ffe7"/><stop offset="0.3333" stop-color="#cdffe7"/><stop offset="0.4167" stop-color="#dbffe7"/><stop offset="0.5" stop-color="#e9ffe6"/><stop offset="0.5833" stop-color="#f7ffe6"/><stop offset="0.6667" stop-color="#fff8e0"/><stop offset="0.75" stop-color="#ffead3"/><stop offset="0.8333" stop-color="#ffdec8"/><stop offset="0.9167" stop-color="#ffd2bd"/><stop offset="1" stop-color="#ffc8b3"/></linearGradient>
<linearGradient id="c26"><stop offset="0" stop-color="#9affe9"/><stop offset="0.08333" stop-color="#a7ffe9"/><stop offset="0.1667" stop-color="#b3ffe9"/><stop offset="0.25" stop-color="#c1ffe8"/><stop offset="0.3333" stop-color="#ceffe8"/><stop offset="0.4167" stop-color="#dcffe8"/><stop offset="0.5" stop-color="#eaffe8"/><stop offset="0.5833" stop-color="#f9ffe7"/><stop offset="0.6667" stop-color="#fff7e0"/><stop offset="0.75" stop-color="#ffe9d3"/><stop offset="0.8333" stop-color="#ffddc8"/><stop offset="0.9167" stop-color="#ffd1bd"/><stop offset="1" stop-color="#ffc7b3"/></linearGradient>
<linearGradient id="c27"><stop offset="0" stop-color="#9bffea"/><stop offset="0.08333" stop-color="#a7ffea"/><stop offset="0.1667" stop-color="#b4ffea"/><stop offset="0.25" stop-color="#c2ffea"/><stop offset="0.3333" stop-color="#cfffe9"/><stop offset="0.4167" stop-color="#ddffe9"/><stop offset="0.5" stop-color="#ebffe9"/><stop offset="0.5833" stop-color="#faffe9"/><stop offset="0.6667" stop-color="#fff6e0"/><stop offset="0.75" stop-color="#ffe8d3"/><stop offset="0.8333" stop-color="#ffdcc8"/><stop offset="0.9167" stop-color="#ffd0bd"/><stop offset="1" stop-color="#ffc6b4"/></linearGradient>
<linearGradient id="c28"><stop offset="0" stop-color="#9cffeb"/><stop offset="0.08333" stop-color="#a8ffeb"/><stop offset="0.1667" stop-color="#b5ffeb"/><stop offset="0.25" stop-color="#c3ffeb"/><stop offset="0.3333" stop-color="#d0ffeb"/><stop offset="0.4167" stop-color="#deffea"/><stop offset="0.5" stop-color="#ecffea"/><stop offset="0.5833" stop-color="#fbffea"/><stop offset="0.6667" stop-color="#fff4e0"/><stop offset="0.75" stop-color="#ffe7d3"/><stop offset="0.8333" stop-color="#ffdbc8"/><stop offset="0.9167" stop-color="#ffcfbd"/><stop offset="1" stop-color="#ffc5b4"/></linearGradient>
<linearGradient id="c29"><stop offset="0" stop-color="#9cffed"/><stop offset="0.08333" stop-color="#a9ffec"/><stop offset="0.1667" stop-color="#b6ffec"/><stop offset="0.25" stop-color="#c4ffec"/><stop offset="0.3333" stop-color="#d1ffec"/><stop offset="0.4167" stop-color="#dfffec"/><stop offset="0.5" stop-color="#eeffeb"/><stop offset="0.5833" stop-color="#fcffeb"/><stop offset="0.6667" stop-color="#fff3e0"/><stop offset="0.75" stop-color="#ffe6d4"/><stop offset="0.8333" stop-color="#ffdac8"/><stop offset="0.9167" stop-color="#ffcebe"/><stop offset="1" stop-color="#ffc4b4"/></linearGradient>
<linearGradient id="c30"><stop offset="0" stop-color="#9dffee"/><stop offset="0.08333" stop-color="#aaffee"/><stop offset="0.1667" stop-color="#b7ffed"/><stop offset="0.25" stop-color="#c5ffed"/><stop offset="0.3333" stop-color="#d2ffed"/><stop offset="0.4167" stop-color="#e0ffed"/><stop offset="0.5" stop-color="#efffed"/><stop offset="0.5833" stop-color="#fdffec"/><stop offset="0.6667" stop-color="#fff2e0"/><stop offset="0.75" stop-color="#ffe5d4"/><stop offset="0.8333" stop-color="#ffd9c8"/><stop offset="0.9167" stop-color="#ffcebe"/><stop offset="1" stop-color="#ffc3b4"/></linearGradient>
<linearGradient id="c31"><stop offset="0" stop-color="#9effef"/><stop offset="0.08333" stop-color="#abffef"/><stop offset="0.1667" stop-color="#b8ffef"/><stop offset="0.25" stop-color="#c6ffee"/><stop offset="0.3333" stop-color="#d3ffee"/><stop offset="0.4167" stop-color="#e1ffee"/><stop offset="0.5" stop-color="#f0ffee"/><stop offset="0.5833" stop-color="#ffffee"/><stop offset="0.6667" stop-color="#fff1e0"/><stop offset="0.75" stop-color="#ffe4d4"/><stop offset="0.8333" stop-color="#ffd8c9"/><stop offset="0.9167" stop-color="#ffcdbe"/><stop offset="1" stop-color="#ffc2b4"/></linearGradient>
<linearGradient id="c32"><stop offset="0" stop-color="#9ffff0"/><stop offset="0.08333" stop-color="#acfff0"/><stop offset="0.1667" stop-color="#b9fff0"/><stop offset="0.25" stop-color="#c7fff0"/><stop offset="0.3333" stop-color="#d4ffef"/><stop offset="0.4167" stop-color="#e3ffef"/><stop offset="0.5" stop-color="#f1ffef"/><stop offset="0.5833" stop-color="#fffeee"/><stop offset="0.6667" stop-color="#fff0e1"/><stop offset="0.75" stop-color="#ffe3d4"/><stop offset="0.8333" stop-color="#ffd7c9"/><stop offset="0.9167" stop-color="#ffccbe"/><stop offset="1" stop-color="#ffc1b4"/></linearGradient>
<linearGradient id="c33"><stop offset="0" stop-color="#a0fff1"/><stop offset="0.08333" stop-color="#adfff1"/><stop offset="0.1667" stop-color="#bafff1"/><stop offset="0.25" stop-color="#c8fff1"/><stop offset="0.3333" stop-color="#d5fff1"/><stop offset="0.4167" stop-color="#e4fff1"/><stop offset="0.5" stop-color="#f2fff0"/><stop offset="0.5833" stop-color="#fffdee"/><stop offset="0.6667" stop-color="#ffefe1"/><stop offset="0.75" stop-color="#ffe2d4"/><stop offset="0.8333" stop-color="#ffd6c9"/><stop offset="0.9167" stop-color="#ffcbbe"/><stop offset="1" stop-color="#ffc0b5"/></linearGradient>
<linearGradient id="c34"><stop offset="0" stop-color="#a1fff2"/><stop offset="0.08333" stop-color="#aefff2"/><stop offset="0.1667" stop-color="#bbfff2"/><stop offset="0.25" stop-color="#c9fff2"/><stop offset="0.3333" stop-color="#d6fff2"/><stop offset="0.4167" stop-color="#e5fff2"/><stop offset="0.5" stop-color="#f3fff2"/><stop offset="0.5833" stop-color="#fffcee"/><stop offset="0.6667" stop-color="#ffeee1"/><stop offset="0.75" stop-color="#ffe1d4"/><stop offset="0.8333" stop-color="#ffd5c9"/><stop offset="0.9167" stop-color="#ffcabf"/><stop offset="1" stop-color="#ffc0b5"/></linearGradient>
<linearGradient id="c35"><stop offset="0" stop-color="#a2fff4"/><stop offset="0.08333" stop-color="#affff3"/><stop offset="0.1667" stop-color="#bcfff3"/><stop offset="0.25" stop-color="#cafff3"/><stop offset="0.3333" stop-color="#d8fff3"/><stop offset="0.4167" stop-color="#e6fff3"/><stop offset="0.5" stop-color="#f5fff3"/><stop offset="0.5833" stop-color="#fffaee"/><stop offset="0.6667" stop-color="#ffece1"/><stop offset="0.75" stop-color="#ffdfd5"/><stop offset="0.8333" stop-color="#ffd4c9"/><stop offset="0.9167" stop-color="#ffc9bf"/><stop offset="1" stop-color="#ffbfb5"/></linearGradient>
<linearGradient id="c36"><stop offset="0" stop-color="#a2fff5"/><stop offset="0.08333" stop-color="#b0fff5"/><stop offset="0.1667" stop-color="#bdfff5"/><stop offset="0.25" stop-color="#cbfff5"/><stop offset="0.3333" stop-color="#d9fff4"/><stop offset="0.4167" stop-color="#e7fff4"/><stop offset="0.5" stop-color="#f6fff4"/><stop offset="0.5833" stop-color="#fff9ef"/><stop offset="0.6667" stop-color="#ffebe1"/><stop offset="0.75" stop-color="#ffded5"/><stop offset="0.8333" stop-color="#ffd3c9"/><stop offset="0.9167" stop-color="#ffc8bf"/><stop offset="1" stop-color="#ffbeb5"/></linearGradient>
<linearGradient id="c37"><stop offset="0" stop-color="#a3fff6"/><stop offset="0.08333" stop-color="#b0fff6"/><stop offset="0.1667" stop-color="#befff6"/><stop offset="0.25" stop-color="#ccfff6"/><stop offset="0.3333" stop-color="#dafff6"/><stop offset="0.4167" stop-color="#e8fff6"/><stop offset="0.5" stop-color="#f7fff5"/><stop offset="0.5833" stop-color="#fff8ef"/><stop offset="0.6667" stop-color="#ffeae1"/><stop offset="0.75" stop-color="#ffddd5"/><stop offset="0.8333" stop-color="#ffd2ca"/><stop offset="0.9167" stop-color="#ffc7bf"/><stop offset="1" stop-color="#ffbdb5"/></linearGradient>
<linearGradient id="c38"><stop offset="0" stop-color="#a4fff7"/><stop offset="0.08333" stop-color="#b1fff7"/><stop offset="0.1667" stop-color="#bffff7"/><stop offset="0.25" stop-color="#cdfff7"/><stop offset="0.3333" stop-color="#dbfff7"/><stop offset="0.4167" stop-color="#e9fff7"/><stop offset="0.5" stop-color="#f8fff7"/><stop offset="0.5833" stop-color="#fff7ef"/><stop offset="0.6667" stop-color="#ffe9e1"/><stop offset="0.75" stop-color="#ffdcd5"/><stop offset="0.8333" stop-color="#ffd1ca"/><stop offset="0.9167" stop-color="#ffc6bf"/><stop offset="1" stop-color="#ffbcb6"/></linearGradient>
<linearGradient id="c39"><stop offset="0" stop-color="#a5fff8"/><stop offset="0.08333" stop-color="#b2fff8"/><stop offset="0.1667" stop-color="#c0fff8"/><stop offset="0.25" stop-color="#cefff8"/><stop offset="0.3333" stop-color="#dcfff8"/><stop offset="0.4167" stop-color="#eafff8"/><stop offset="0.5" stop-color="#f9fff8"/><stop offset="0.5833" stop-color="#fff6ef"/><stop offset="0.6667" stop-color="#ffe8e1"/><stop offset="0.75" stop-color="#ffdbd5"/><stop offset="0.8333" stop-color="#ffd0ca"/><stop offset="0.9167" stop-color="#ffc5bf"/><stop offset="1" stop-color="#ffbbb6"/></linearGradient>
<linearGradient id="c40"><stop offset="0" stop-color="#a6fffa"/><stop offset="0.08333" stop-color="#b3fffa"/><stop offset="0.1667" stop-color="#c1fffa"/><stop offset="0.25" stop-color="#cffffa"/><stop offset="0.3333" stop-color="#ddfff9"/><stop offset="0.4167" stop-color="#ecfff9"/><stop offset="0.5" stop-color="#fbfff9"/><stop offset="0.5833" stop-color="#fff4ef"/><stop offset="0.6667" stop-color="#ffe7e2"/><stop offset="0.75" stop-color="#ffdad5"/><stop offset="0.8333" stop-color="#ffcfca"/><stop offset="0.9167" stop-color="#ffc4c0"/><stop offset="1" stop-color="#ffbab6"/></linearGradient>
<linearGradient id="c41"><stop offset="0" stop-color="#a7fffb"/><stop offset="0.08333" stop-color="#b4fffb"/><stop offset="0.1667" stop-color="#c2fffb"/><stop offset="0.25" stop-color="#d0fffb"/><stop offset="0.3333" stop-color="#defffb"/><stop offset="0.4167" stop-color="#edfffb"/><stop offset="0.5" stop-color="#fcfffb"/><stop offset="0.5833" stop-color="#fff3ef"/><stop offset="0.6667" stop-color="#ffe6e2"/><stop offset="0.75" stop-color="#ffd9d5"/><stop offset="0.8333" stop-color="#ffceca"/><stop offset="0.9167" stop-color="#ffc3c0"/><stop offset="1" stop-color="#ffb9b6"/></linearGradient>
<linearGradient id="c42"><stop offset="0" stop-color="#a8fffc"/><stop offset="0.08333" stop-color="#b5fffc"/><stop offset="0.1667" stop-color="#c3fffc"/><stop offset="0.25" stop-color="#d1fffc"/><stop offset="0.3333" stop-color="#dffffc"/><stop offset="0.4167" stop-color="#eefffc"/><stop offset="0.5" stop-color="#fdfffc"/><stop offset="0.5833" stop-color="#fff2ef"/><stop offset="0.6667" stop-color="#ffe5e2"/><stop offset="0.75" stop-color="#ffd8d6"/><stop offset="0.8333" stop-color="#ffcdca"/><stop offset="0.9167" stop-color="#ffc2c0"/><stop offset="1" stop-color="#ffb8b6"/></linearGradient>
<linearGradient id="c43"><stop offset="0" stop-color="#a9fffd"/><stop offset="0.08333" stop-color="#b6fffd"/><stop offset="0.1667" stop-color="#c4fffd"/><stop offset="0.25" stop-color="#d2fffd"/><stop offset="0.3333" stop-color="#e0fffd"/><stop offset="0.4167" stop-color="#effffd"/><stop offset="0.5" stop-color="#fefffd"/><stop offset="0.5833" stop-color="#fff1ef"/><stop offset="0.6667" stop-color="#ffe3e2"/><stop offset="0.75" stop-color="#ffd7d6"/><stop offset="0.8333" stop-color="#ffccca"/><stop offset="0.9167" stop-color="#ffc1c0"/><stop offset="1" stop-color="#ffb8b6"/></linearGradient>
<linearGradient id="c44"><stop offset="0" stop-color="#aaffff"/><stop offset="0.08333" stop-color="#b7ffff"/><stop offset="0.1667" stop-color="#c5ffff"/><stop offset="0.25" stop-color="#d3ffff"/><stop offset="0.3333" stop-color="#e2ffff"/><stop offset="0.4167" stop-color="#f0ffff"/><stop offset="0.5" stop-color="#fffefe"/><stop offset="0.5833" stop-color="#fff0f0"/><stop offset="0.6667" stop-color="#ffe2e2"/><stop offset="0.75" stop-color="#ffd6d6"/><stop offset="0.8333" stop-color="#ffcbcb"/><stop offset="0.9167" stop-color="#ffc0c0"/><stop offset="1" stop-color="#ffb7b7"/></linearGradient>
<linearGradient id="c45"><stop offset="0" stop-color="#aafeff"/><stop offset="0.08333" stop-color="#b7feff"/><stop offset="0.1667" stop-color="#c5feff"/><stop offset="0.25" stop-color="#d3feff"/><stop offset="0.3333" stop-color="#e2feff"/><stop offset="0.4167" stop-color="#f1feff"/><stop offset="0.5" stop-color="#fffdfe"/><stop offset="0.5833" stop-color="#ffeff0"/><stop offset="0.6667" stop-color="#ffe1e2"/><stop offset="0.75" stop-color="#ffd5d6"/><stop offset="0.8333" stop-color="#ffcacb"/><stop offset="0.9167" stop-color="#ffbfc0"/><stop offset="1" stop-color="#ffb6b7"/></linearGradient>
<linearGradient id="c46"><stop offset="0" stop-color="#aafdff"/><stop offset="0.08333" stop-color="#b7fdff"/><stop offset="0.1667" stop-color="#c5fdff"/><stop offset="0.25" stop-color="#d3fdff"/><stop offset="0.3333" stop-color="#e2fdff"/><stop offset="0.4167" stop-color="#f0fdff"/><stop offset="0.5" stop-color="#fffcfe"/><stop offset="0.5833" stop-color="#ffedf0"/><stop offset="0.6667" stop-color="#ffe0e2"/><stop offset="0.75" stop-color="#ffd4d6"/><stop offset="0.8333" stop-color="#ffc9cb"/><stop offset="0.9167" stop-color="#ffbec1"/><stop offset="1" stop-color="#ffb5b7"/></linearGradient>
<linearGradient id="c47"><stop offset="0" stop-color="#aafcff"/><stop offset="0.08333" stop-color="#b8fcff"/><stop offset="0.1667" stop-color="#c5fbff"/><stop offset="0.25" stop-color="#d3fbff"/><stop offset="0.3333" stop-color="#e2fbff"/><stop offset="0.4167" stop-color="#f0fbff"/><stop offset="0.5" stop-color="#fffbfe"/><stop offset="0.5833" stop-color="#ffecf0"/><stop offset="0.6667" stop-color="#ffdfe3"/><stop offset="0.75" stop-color="#ffd3d6"/><stop offset="0.8333" stop-color="#ffc8cb"/><stop offset="0.9167" stop-color="#ffbec1"/><stop offset="1" stop-color="#ffb4b7"/></linearGradient>
<linearGradient id="c48"><stop offset="0" stop-color="#aafaff"/><stop offset="0.08333" stop-color="#b8faff"/><stop offset="0.1667" stop-color="#c5faff"/><stop offset="0.25" stop-color="#d3faff"/><stop offset="0.3333" stop-color="#e2faff"/><stop offset="0.4167" stop-color="#f0faff"/><stop offset="0.5" stop-color="#fff9ff"/><stop offset="0.5833" stop-color="#ffebf0"/><stop offset="0.6667" stop-color="#ffdee3"/><stop offset="0.75" stop-color="#ffd2d7"/><stop offset="0.8333" stop-color="#ffc7cb"/><stop offset="0.9167" stop-color="#ffbdc1"/><stop offset="1" stop-color="#ffb3b7"/></linearGradient>
<linearGradient id="c49"><stop offset="0" stop-color="#aaf9ff"/><stop offset="0.08333" stop-color="#b8f9ff"/><stop offset="0.1667" stop-color="#c5f9ff"/><stop offset="0.25" stop-color="#d3f9ff"/><stop offset="0.3333" stop-color="#e2f9ff"/><stop offset="0.4167" stop-color="#f0f9ff"/><stop offset="0.5" stop-color="#fff8ff"/><stop offset="0.5833" stop-color="#ffeaf0"/><stop offset="0.6667" stop-color="#ffdde3"/><stop offset="0.75" stop-color="#ffd1d7"/><stop offset="0.8333" stop-color="#ffc6cb"/><stop offset="0.9167" stop-color="#ffbcc1"/><stop offset="1" stop-color="#ffb2b7"/></linearGradient>
<linearGradient id="c50"><stop offset="0" stop-color="#aaf8ff"/><stop offset="0.08333" stop-color="#b8f8ff"/><stop offset="0.1667" stop-color="#c5f8ff"/><stop offset="0.25" stop-color="#d3f8ff"/><stop offset="0.3333" stop-color="#e2f7ff"/><stop offset="0.4167" stop-color="#f0f7ff"/><stop offset="0.5" stop-color="#fff7ff"/><stop offset="0.5833" stop-color="#ffe9f0"/><stop offset="0.6667" stop-color="#ffdce3"/><stop offset="0.75" stop-color="#ffd0d7"/><stop offset="0.8333" stop-color="#ffc5cc"/><stop offset="0.9167" stop-color="#ffbbc1"/><stop offset="1" stop-color="#ffb1b8"/></linearGradient>
<linearGradient id="c51"><stop offset="0" stop-color="#aaf7ff"/><stop offset="0.08333" stop-color="#b8f7ff"/><stop offset="0.1667" stop-color="#c5f6ff"/><stop offset="0.25" stop-color="#d3f6ff"/><stop offset="0.3333" stop-color="#e2f6ff"/><stop offset="0.4167" stop-color="#f0f6ff"/><stop offset="0.5" stop-color="#fff6ff"/><stop offset="0.5833" stop-color="#ffe8f0"/><stop offset="0.6667" stop-color="#ffdbe3"/><stop offset="0.75" stop-color="#ffcfd7"/><stop offset="0.8333" stop-color="#ffc4cc"/><stop offset="0.9167" stop-color="#ffbac1"/><stop offset="1" stop-color="#ffb1b8"/></linearGradient>
<linearGradient id="c52"><stop offset="0" stop-color="#abf5ff"/><stop offset="0.08333" stop-color="#b8f5ff"/><stop offset="0.1667" stop-color="#c5f5ff"/><stop offset="0.25" stop-color="#d3f5ff"/><stop offset="0.3333" stop-color="#e2f5ff"/><stop offset="0.4167" stop-color="#f0f5ff"/><stop offset="0.5" stop-color="#fff4ff"/><stop offset="0.5833" stop-color="#ffe6f0"/><stop offset="0.6667" stop-color="#ffdae3"/><stop offset="0.75" stop-color="#ffced7"/><stop offset="0.8333" stop-color="#ffc3cc"/><stop offset="0.9167" stop-color="#ffb9c2"/><stop offset="1" stop-color="#ffb0b8"/></linearGradient>
<linearGradient id="c53"><stop offset="0" stop-color="#abf4ff"/><stop offset="0.08333" stop-color="#b8f4ff"/><stop offset="0.1667" stop-color="#c5f4ff"/><stop offset="0.25" stop-color="#d3f4ff"/><stop offset="0.3333" stop-color="#e1f4ff"/><stop offset="0.4167" stop-color="#f0f3ff"/><stop offset="0.5" stop-color="#fff3ff"/><stop offset="0.5833" stop-color="#ffe5f1"/><stop offset="0.6667" stop-color="#ffd9e3"/><stop offset="0.75" stop-color="#ffcdd7"/><stop offset="0.8333" stop-color="#ffc2cc"/><stop offset="0.9167" stop-color="#ffb8c2"/><stop offset="1" stop-color="#ffafb8"/></linearGradient>
<linearGradient id="c54"><stop offset="0" stop-color="#abf3ff"/><stop offset="0.08333" stop-color="#b8f3ff"/><stop offset="0.1667" stop-color="#c5f3ff"/><stop offset="0.25" stop-color="#d3f3ff"/><stop offset="0.3333" stop-color="#e1f2ff"/><stop offset="0.4167" stop-color="#f0f2ff"/><stop offset="0.5" stop-color="#fff2ff"/><stop offset="0.5833" stop-color="#ffe4f1"/><stop offset="0.6667" stop-color="#ffd8e4"/><stop offset="0.75" stop-color="#ffccd7"/><stop offset="0.8333" stop-color="#ffc1cc"/><stop offset="0.9167" stop-color="#ffb7c2"/><stop offset="1" stop-color="#ffaeb8"/></linearGradient>
<linearGradient id="c55"><stop offset="0" stop-color="#abf2ff"/><stop offset="0.08333" stop-color="#b8f2ff"/><stop offset="0.1667" stop-color="#c5f1ff"/><stop offset="0.25" stop-color="#d3f1ff"/><stop offset="0.3333" stop-color="#e1f1ff"/><stop offset="0.4167" stop-color="#f0f1ff"/><stop offset="0.5" stop-color="#fff1ff"/><stop offset="0.5833" stop-color="#ffe3f1"/><stop offset="0.6667" stop-color="#ffd6e4"/><stop offset="0.75" stop-color="#ffcbd8"/><stop offset="0.8333" stop-color="#ffc0cc"/><stop offset="0.9167" stop-color="#ffb6c2"/><stop offset="1" stop-color="#ffadb9"/></linearGradient>
<linearGradient id="c56"><stop offset="0" stop-color="#abf1ff"/><stop offset="0.08333" stop-color="#b8f0ff"/><stop offset="0.1667" stop-color="#c5f0ff"/><stop offset="0.25" stop-color="#d3f0ff"/><stop offset="0.3333" stop-color="#e1f0ff"/><stop offset="0.4167" stop-color="#f0f0ff"/><stop offset="0.5" stop-color="#ffefff"/><stop offset="0.5833" stop-color="#ffe2f1"/><stop offset="0.6667" stop-color="#ffd5e4"/><stop offset="0.75" stop-color="#ffcad8"/><stop offset="0.8333" stop-color="#ffbfcd"/><stop offset="0.9167" stop-color="#ffb5c2"/><stop offset="1" stop-color="#ffacb9"/></linearGradient>
<linearGradient id="c57"><stop offset="0" stop-color="#abefff"/><stop offset="0.08333" stop-color="#b8efff"/><stop offset="0.1667" stop-color="#c5efff"/><stop offset="0.25" stop-color="#d3efff"/><stop offset="0.3333" stop-color="#e1efff"/><stop offset="0.4167" stop-color="#f0eeff"/><stop offset="0.5" stop-color="#ffeeff"/><stop offset="0.5833" stop-color="#ffe1f1"/><stop offset="0.6667" stop-color="#ffd4e4"/><stop offset="0.75" stop-color="#ffc9d8"/><stop offset="0.8333" stop-color="#ffbecd"/><stop offset="0.9167" stop-color="#ffb5c2"/><stop offset="1" stop-color="#ffabb9"/></linearGradient>
<linearGradient id="c58"><stop offset="0" stop-color="#abeeff"/><stop offset="0.08333" stop-color="#b8eeff"/><stop offset="0.1667" stop-color="#c6eeff"/><stop offset="0.25" stop-color="#d3eeff"/><stop offset="0.3333" stop-color="#e1edff"/><stop offset="0.4167" stop-color="#f0edff"/><stop offset="0.5" stop-color="#ffedff"/><stop offset="0.5833" stop-color="#ffe0f1"/><stop offset="0.6667" stop-color="#ffd3e4"/><stop offset="0.75" stop-color="#ffc8d8"/><stop offset="0.8333" stop-color="#ffbdcd"/><stop offset="0.9167" stop-color="#ffb4c3"/><stop offset="1" stop-color="#ffabb9"/></linearGradient>
<linearGradient id="c59"><stop offset="0" stop-color="#abedff"/><stop offset="0.08333" stop-color="#b8edff"/><stop offset="0.1667" stop-color="#c6edff"/><stop offset="0.25" stop-color="#d3ecff"/><stop offset="0.3333" stop-color="#e1ecff"/><stop offset="0.4167" stop-color="#f0ecff"/><stop offset="0.5" stop-color="#feecff"/><stop offset="0.5833" stop-color="#ffdff1"/><stop offset="0.6667" stop-color="#ffd2e4"/><stop offset="0.75" stop-color="#ffc7d8"/><stop offset="0.8333" stop-color="#ffbccd"/><stop offset="0.9167" stop-color="#ffb3c3"/><stop offset="1" stop-color="#ffaab9"/></linearGradient>
<linearGradient id="c60"><stop offset="0" stop-color="#abecff"/><stop offset="0.08333" stop-color="#b8ecff"/><stop offset="0.1667" stop-color="#c6ebff"/><stop offset="0.25" stop-color="#d3ebff"/><stop offset="0.3333" stop-color="#e1ebff"/><stop offset="0.4167" stop-color="#f0ebff"/><stop offset="0.5" stop-color="#feeaff"/><stop offset="0.5833" stop-color="#ffddf1"/><stop offset="0.6667" stop-color="#ffd1e4"/><stop offset="0.75" stop-color="#ffc6d8"/><stop offset="0.8333" stop-color="#ffbbcd"/><stop offset="0.9167" stop-color="#ffb2c3"/><stop offset="1" stop-color="#ffa9b9"/></linearGradient>
<linearGradient id="c61"><stop offset="0" stop-color="#abebff"/><stop offset="0.08333" stop-color="#b8eaff"/><stop offset="0.1667" stop-color="#c6eaff"/><stop offset="0.25" stop-color="#d3eaff"/><stop offset="0.3333" stop-color="#e1eaff"/><stop offset="0.4167" stop-color="#f0e9ff"/><stop offset="0.5" stop-color="#fee9ff"/><stop offset="0.5833" stop-color="#ffdcf1"/><stop offset="0.6667" stop-color="#ffd0e4"/><stop offset="0.75" stop-color="#ffc5d8"/><stop offset="0.8333" stop-color="#ffbbcd"/><stop offset="0.9167" stop-color="#ffb1c3"/><stop offset="1" stop-color="#ffa8ba"/></linearGradient>
<linearGradient id="c62"><stop offset="0" stop-color="#abe9ff"/><stop offset="0.08333" stop-color="#b8e9ff"/><stop offset="0.1667" stop-color="#c6e9ff"/><stop offset="0.25" stop-color="#d3e9ff"/><stop offset="0.3333" stop-color="#e1e8ff"/><stop offset="0.4167" stop-color="#efe8ff"/><stop offset="0.5" stop-color="#fee8ff"/><stop offset="0.5833" stop-color="#ffdbf2"/><stop offset="0.6667" stop-color="#ffcfe5"/><stop offset="0.75" stop-color="#ffc4d9"/><stop offset="0.8333" stop-color="#ffbacd"/><stop offset="0.9167" stop-color="#ffb0c3"/><stop offset="1" stop-color="#ffa7ba"/></linearGradient>
<linearGradient id="c63"><stop offset="0" stop-color="#abe8ff"/><stop offset="0.08333" stop-color="#b8e8ff"/><stop offset="0.1667" stop-color="#c6e8ff"/><stop offset="0.25" stop-color="#d3e7ff"/><stop offset="0.3333" stop-color="#e1e7ff"/><stop offset="0.4167" stop-color="#efe7ff"/><stop offset="0.5" stop-color="#fee6ff"/><stop offset="0.5833" stop-color="#ffdaf2"/><stop offset="0.6667" stop-color="#ffcee5"/><stop offset="0.75" stop-color="#ffc3d9"/><stop offset="0.8333" stop-color="#ffb9ce"/><stop offset="0.9167" stop-color="#ffafc3"/><stop offset="1" stop-color="#ffa6ba"/></linearGradient>
<linearGradient id="c64"><stop offset="0" stop-color="#abe7ff"/><stop offset="0.08333" stop-color="#b8e7ff"/><stop offset="0.1667" stop-color="#c6e7ff"/><stop offset="0.25" stop-color="#d3e6ff"/><stop offset="0.3333" stop-color="#e1e6ff"/><stop offset="0.4167" stop-color="#efe6ff"/><stop offset="0.5" stop-color="#fee5ff"/><stop offset="0.5833" stop-color="#ffd9f2"/><stop offset="0.6667" stop-color="#ffcde5"/><stop offset="0.75" stop-color="#ffc2d9"/><stop offset="0.8333" stop-color="#ffb8ce"/><stop offset="0.9167" stop-color="#ffaec4"/><stop offset="1" stop-color="#ffa6ba"/></linearGradient>
<linearGradient id="c65"><stop offset="0" stop-color="#ace6ff"/><stop offset="0.08333" stop-color="#b8e6ff"/><stop offset="0.1667" stop-color="#c6e5ff"/><stop offset="0.25" stop-color="#d3e5ff"/><stop offset="0.3333" stop-color="#e1e5ff"/><stop offset="0.4167" stop-color="#efe4ff"/><stop offset="0.5" stop-color="#fee4ff"/><stop offset="0.5833" stop-color="#ffd8f2"/><stop offset="0.6667" stop-color="#ffcce5"/><stop offset="0.75" stop-color="#ffc1d9"/><stop offset="0.8333" stop-color="#ffb7ce"/><stop offset="0.9167" stop-color="#ffadc4"/><stop offset="1" stop-color="#ffa5ba"/></linearGradient>
<linearGradient id="c66"><stop offset="0" stop-color="#ace5ff"/><stop offset="0.08333" stop-color="#b9e4ff"/><stop offset="0.1667" stop-color="#c6e4ff"/><stop offset="0.25" stop-color="#d3e4ff"/><stop offset="0.3333" stop-color="#e1e3ff"/><stop offset="0.4167" stop-color="#efe3ff"/><stop offset="0.5" stop-color="#fee3ff"/><stop offset="0.5833" stop-color="#ffd7f2"/><stop offset="0.6667" stop-color="#ffcbe5"/><stop offset="0.75" stop-color="#ffc0d9"/><stop offset="0.8333" stop-color="#ffb6ce"/><stop offset="0.9167" stop-color="#ffadc4"/><stop offset="1" stop-color="#ffa4ba"/></linearGradient>
<linearGradient id="c67"><stop offset="0" stop-color="#ace4ff"/><stop offset="0.08333" stop-color="#b9e3ff"/><stop offset="0.1667" stop-color="#c6e3ff"/><stop offset="0.25" stop-color="#d3e3ff"/><stop offset="0.3333" stop-color="#e1e2ff"/><stop offset="0.4167" stop-color="#efe2ff"/><stop offset="0.5" stop-color="#fee1ff"/><stop offset="0.5833" stop-color="#ffd6f2"/><stop offset="0.6667" stop-color="#ffcae5"/><stop offset="0.75" stop-color="#ffbfd9"/><stop offset="0.8333" stop-color="#ffb5ce"/><stop offset="0.9167" stop-color="#ffacc4"/><stop offset="1" stop-color="#ffa3bb"/></linearGradient>
<linearGradient id="c68"><stop offset="0" stop-color="#ace3ff"/><stop offset="0.08333" stop-color="#b9e2ff"/><stop offset="0.1667" stop-color="#c6e2ff"/><stop offset="0.25" stop-color="#d3e1ff"/><stop offset="0.3333" stop-color="#e1e1ff"/><stop offset="0.4167" stop-color="#efe1ff"/><stop offset="0.5" stop-color="#fee0ff"/><stop offset="0.5833" stop-color="#ffd5f2"/><stop offset="0.6667" stop-color="#ffc9e5"/><stop offset="0.75" stop-color="#ffbed9"/><stop offset="0.8333" stop-color="#ffb4ce"/><stop offset="0.9167" stop-color="#ffabc4"/><stop offset="1" stop-color="#ffa2bb"/></linearGradient>
<linearGradient id="c69"><stop offset="0" stop-color="#ace1ff"/><stop offset="0.08333" stop-color="#b9e1ff"/><stop offset="0.1667" stop-color="#c6e1ff"/><stop offset="0.25" stop-color="#d3e0ff"/><stop offset="0.3333" stop-color="#e1e0ff"/><stop offset="0.4167" stop-color="#efdfff"/><stop offset="0.5" stop-color="#fddfff"/><stop offset="0.5833" stop-color="#ffd4f2"/><stop offset="0.6667" stop-color="#ffc8e5"/><stop offset="0.75" stop-color="#ffbdda"/><stop offset="0.8333" stop-color="#ffb3cf"/><stop offset="0.9167" stop-color="#ffaac4"/><stop offset="1" stop-color="#ffa1bb"/></linearGradient>
<linearGradient id="c70"><stop offset="0" stop-color="#ace0ff"/><stop offset="0.08333" stop-color="#b9e0ff"/><stop offset="0.1667" stop-color="#c6dfff"/><stop offset="0.25" stop-color="#d3dfff"/><stop offset="0.3333" stop-color="#e1dfff"/><stop offset="0.4167" stop-color="#efdeff"/><stop offset="0.5" stop-color="#fddeff"/><stop offset="0.5833" stop-color="#ffd3f2"/><stop offset="0.6667" stop-color="#ffc7e6"/><stop offset="0.75" stop-color="#ffbcda"/><stop offset="0.8333" stop-color="#ffb2cf"/><stop offset="0.9167" stop-color="#ffa9c4"/><stop offset="1" stop-color="#ffa1bb"/></linearGradient>
<linearGradient id="c71"><stop offset="0" stop-color="#acdfff"/><stop offset="0.08333" stop-color="#b9dfff"/><stop offset="0.1667" stop-color="#c6deff"/><stop offset="0.25" stop-color="#d3deff"/><stop offset="0.3333" stop-color="#e1ddff"/><stop offset="0.4167" stop-color="#efddff"/><stop offset="0.5" stop-color="#fdddff"/><stop offset="0.5833" stop-color="#ffd1f3"/><stop offset="0.6667" stop-color="#ffc6e6"/><stop offset="0.75" stop-color="#ffbbda"/><stop offset="0.8333" stop-color="#ffb1cf"/><stop offset="0.9167" stop-color="#ffa8c5"/><stop offset="1" stop-color="#ffa0bb"/></linearGradient>
<linearGradient id="c72"><stop offset="0" stop-color="#acdeff"/><stop offset="0.08333" stop-color="#b9deff"/><stop offset="0.1667" stop-color="#c6ddff"/><stop offset="0.25" stop-color="#d3ddff"/><stop offset="0.3333" stop-color="#e1dcff"/><stop offset="0.4167" stop-color="#efdcff"/><stop offset="0.5" stop-color="#fddbff"/><stop offset="0.5833" stop-color="#ffd0f3"/><stop offset="0.6667" stop-color="#ffc5e6"/><stop offset="0.75" stop-color="#ffbada"/><stop offset="0.8333" stop-color="#ffb1cf"/><stop offset="0.9167" stop-color="#ffa7c5"/><stop offset="1" stop-color="#ff9fbb"/></linearGradient>
<linearGradient id="c73"><stop offset="0" stop-color="#acddff"/><stop offset="0.08333" stop-color="#b9dcff"/><stop offset="0.1667" stop-color="#c6dcff"/><stop offset="0.25" stop-color="#d3dcff"/><stop offset="0.3333" stop-color="#e1dbff"/><stop offset="0.4167" stop-color="#efdbff"/><stop offset="0.5" stop-color="#fddaff"/><stop offset="0.5833" stop-color="#ffcff3"/><stop offset="0.6667" stop-color="#ffc4e6"/><stop offset="0.75" stop-color="#ffb9da"/><stop offset="0.8333" stop-color="#ffb0cf"/><stop offset="0.9167" stop-color="#ffa7c5"/><stop offset="1" stop-color="#ff9ebc"/></linearGradient>
<linearGradient id="c74"><stop offset="0" stop-color="#acdcff"/><stop offset="0.08333" stop-color="#b9dbff"/><stop offset="0.1667" stop-color="#c6dbff"/><stop offset="0.25" stop-color="#d3daff"/><stop offset="0.3333" stop-color="#e1daff"/><stop offset="0.4167" stop-color="#efd9ff"/><stop offset="0.5" stop-color="#fdd9ff"/><stop offset="0.5833" stop-color="#ffcef3"/><stop offset="0.6667" stop-color="#ffc3e6"/><stop offset="0.75" stop-color="#ffb8da"/><stop offset="0.8333" stop-color="#ffafcf"/><stop offset="0.9167" stop-color="#ffa6c5"/><stop offset="1" stop-color="#ff9dbc"/></linearGradient>
<linearGradient id="c75"><stop offset="0" stop-color="#acdbff"/><stop offset="0.08333" stop-color="#b9daff"/><stop offset="0.1667" stop-color="#c6daff"/><stop offset="0.25" stop-color="#d3d9ff"/><stop offset="0.3333" stop-color="#e1d9ff"/><stop offset="0.4167" stop-color="#efd8ff"/><stop offset="0.5" stop-color="#fdd8ff"/><stop offset="0.5833" stop-color="#ffcdf3"/><stop offset="0.6667" stop-color="#ffc2e6"/><stop offset="0.75" stop-color="#ffb7da"/><stop offset="0.8333" stop-color="#ffaecf"/><stop offset="0.9167" stop-color="#ffa5c5"/><stop offset="1" stop-color="#ff9dbc"/></linearGradient>
<linearGradient id="c76"><stop offset="0" stop-color="#acd9ff"/><stop offset="0.08333" stop-color="#b9d9ff"/><stop offset="0.1667" stop-color="#c6d9ff"/><stop offset="0.25" stop-color="#d3d8ff"/><stop offset="0.3333" stop-color="#e1d8ff"/><stop offset="0.4167" stop-color="#efd7ff"/><stop offset="0.5" stop-color="#fdd7ff"/><stop offset="0.5833" stop-color="#ffccf3"/><stop offset="0.6667" stop-color="#ffc1e6"/><stop offset="0.75" stop-color="#ffb7da"/><stop offset="0.8333" stop-color="#ffadd0"/><stop offset="0.9167" stop-color="#ffa4c5"/><stop offset="1" stop-color="#ff9cbc"/></linearGradient>
<linearGradient id="c77"><stop offset="0" stop-color="#acd8ff"/><stop offset="0.08333" stop-color="#b9d8ff"/><stop offset="0.1667" stop-color="#c6d7ff"/><stop offset="0.25" stop-color="#d3d7ff"/><stop offset="0.3333" stop-color="#e1d6ff"/><stop offset="0.4167" stop-color="#efd6ff"/><stop offset="0.5" stop-color="#fdd5ff"/><stop offset="0.5833" stop-color="#ffcbf3"/><stop offset="0.6667" stop-color="#ffc0e6"/><stop offset="0.75" stop-color="#ffb6db"/><stop offset="0.8333" stop-color="#ffacd0"/><stop offset="0.9167" stop-color="#ffa3c6"/><stop offset="1" stop-color="#ff9bbc"/></linearGradient>
<linearGradient id="c78"><stop offset="0" stop-color="#acd7ff"/><stop offset="0.08333" stop-color="#b9d7ff"/><stop offset="0.1667" stop-color="#c6d6ff"/><stop offset="0.25" stop-color="#d3d6ff"/><stop offset="0.3333" stop-color="#e1d5ff"/><stop offset="0.4167" stop-color="#efd5ff"/><stop offset="0.5" stop-color="#fdd4ff"/><stop offset="0.5833" stop-color="#ffcaf3"/><stop offset="0.6667" stop-color="#ffbfe7"/><stop offset="0.75" stop-color="#ffb5db"/><stop offset="0.8333" stop-color="#ffabd0"/><stop offset="0.9167" stop-color="#ffa2c6"/><stop offset="1" stop-color="#ff9abc"/></linearGradient>
<linearGradient id="c79"><stop offset="0" stop-color="#add6ff"/><stop offset="0.08333" stop-color="#b9d6ff"/><stop offset="0.1667" stop-color="#c6d5ff"/><stop offset="0.25" stop-color="#d3d5ff"/><stop offset="0.3333" stop-color="#e1d4ff"/><stop offset="0.4167" stop-color="#eed4ff"/><stop offset="0.5" stop-color="#fdd3ff"/><stop offset="0.5833" stop-color="#ffc9f3"/><stop offset="0.6667" stop-color="#ffbee7"/><stop offset="0.75" stop-color="#ffb4db"/><stop offset="0.8333" stop-color="#ffaad0"/><stop offset="0.9167" stop-color="#ffa2c6"/><stop offset="1" stop-color="#ff99bc"/></linearGradient>
<linearGradient id="c80"><stop offset="0" stop-color="#add5ff"/><stop offset="0.08333" stop-color="#b9d5ff"/><stop offset="0.1667" stop-color="#c6d4ff"/><stop offset="0.25" stop-color="#d3d4ff"/><stop offset="0.3333" stop-color="#e1d3ff"/><stop offset="0.4167" stop-color="#eed2ff"/><stop offset="0.5" stop-color="#fdd2ff"/><stop offset="0.5833" stop-color="#ffc8f4"/><stop offset="0.6667" stop-color="#ffbde7"/><stop offset="0.75" stop-color="#ffb3db"/><stop offset="0.8333" stop-color="#ffa9d0"/><stop offset="0.9167" stop-color="#ffa1c6"/><stop offset="1" stop-color="#ff99bd"/></linearGradient>
<linearGradient id="c81"><stop offset="0" stop-color="#add4ff"/><stop offset="0.08333" stop-color="#b9d3ff"/><stop offset="0.1667" stop-color="#c6d3ff"/><stop offset="0.25" stop-color="#d3d2ff"/><stop offset="0.3333" stop-color="#e1d2ff"/><stop offset="0.4167" stop-color="#eed1ff"/><stop offset="0.5" stop-color="#fcd1ff"/><stop offset="0.5833" stop-color="#ffc7f4"/><stop offset="0.6667" stop-color="#ffbce7"/><stop offset="0.75" stop-color="#ffb2db"/><stop offset="0.8333" stop-color="#ffa9d0"/><stop offset="0.9167" stop-color="#ffa0c6"/><stop offset="1" stop-color="#ff98bd"/></linearGradient>
<linearGradient id="c82"><stop offset="0" stop-color="#add3ff"/><stop offset="0.08333" stop-color="#b9d2ff"/><stop offset="0.1667" stop-color="#c6d2ff"/><stop offset="0.25" stop-color="#d3d1ff"/><stop offset="0.3333" stop-color="#e1d1ff"/><stop offset="0.4167" stop-color="#eed0ff"/><stop offset="0.5" stop-color="#fcd0ff"/><stop offset="0.5833" stop-color="#ffc6f4"/><stop offset="0.6667" stop-color="#ffbbe7"/><stop offset="0.75" stop-color="#ffb1db"/><stop offset="0.8333" stop-color="#ffa8d0"/><stop offset="0.9167" stop-color="#ff9fc6"/><stop offset="1" stop-color="#ff97bd"/></linearGradient>
<linearGradient id="c83"><stop offset="0" stop-color="#add2ff"/><stop offset="0.08333" stop-color="#b9d1ff"/><stop offset="0.1667" stop-color="#c6d1ff"/><stop offset="0.25" stop-color="#d3d0ff"/><stop offset="0.3333" stop-color="#e1d0ff"/><stop offset="0.4167" stop-color="#eecfff"/><stop offset="0.5" stop-color="#fcceff"/><stop offset="0.5833" stop-color="#ffc5f4"/><stop offset="0.6667" stop-color="#ffbae7"/><stop offset="0.75" stop-color="#ffb0db"/><stop offset="0.8333" stop-color="#ffa7d1"/><stop offset="0.9167" stop-color="#ff9ec6"/><stop offset="1" stop-color="#ff96bd"/></linearGradient>
<linearGradient id="c84"><stop offset="0" stop-color="#add1ff"/><stop offset="0.08333" stop-color="#b9d0ff"/><stop offset="0.1667" stop-color="#c6d0ff"/><stop offset="0.25" stop-color="#d3cfff"/><stop offset="0.3333" stop-color="#e1ceff"/><stop offset="0.4167" stop-color="#eeceff"/><stop offset="0.5" stop-color="#fccdff"/><stop offset="0.5833" stop-color="#ffc4f4"/><stop offset="0.6667" stop-color="#ffb9e7"/><stop offset="0.75" stop-color="#ffafdc"/><stop offset="0.8333" stop-color="#ffa6d1"/><stop offset="0.9167" stop-color="#ff9dc7"/><stop offset="1" stop-color="#ff95bd"/></linearGradient>
<linearGradient id="c85"><stop offset="0" stop-color="#add0ff"/><stop offset="0.08333" stop-color="#b9cfff"/><stop offset="0.1667" stop-color="#c6cfff"/><stop offset="0.25" stop-color="#d3ceff"/><stop offset="0.3333" stop-color="#e1cdff"/><stop offset="0.4167" stop-color="#eecdff"/><stop offset="0.5" stop-color="#fcccff"/><stop offset="0.5833" stop-color="#ffc3f4"/><stop offset="0.6667" stop-color="#ffb8e7"/><stop offset="0.75" stop-color="#ffaedc"/><stop offset="0.8333" stop-color="#ffa5d1"/><stop offset="0.9167" stop-color="#ff9dc7"/><stop offset="1" stop-color="#ff95bd"/></linearGradient>
<linearGradient id="c86"><stop offset="0" stop-color="#adcfff"/><stop offset="0.08333" stop-color="#b9ceff"/><stop offset="0.1667" stop-color="#c6cdff"/><stop offset="0.25" stop-color="#d3cdff"/><stop offset="0.3333" stop-color="#e0ccff"/><stop offset="0.4167" stop-color="#eeccff"/><stop offset="0.5" stop-color="#fccbff"/><stop offset="0.5833" stop-color="#ffc2f4"/><stop offset="0.6667" stop-color="#ffb7e7"/><stop offset="0.75" stop-color="#ffaddc"/><stop offset="0.8333" stop-color="#ffa4d1"/><stop offset="0.9167" stop-color="#ff9cc7"/><stop offset="1" stop-color="#ff94be"/></linearGradient>
<linearGradient id="c87"><stop offset="0" stop-color="#adcdff"/><stop offset="0.08333" stop-color="#bacdff"/><stop offset="0.1667" stop-color="#c6ccff"/><stop offset="0.25" stop-color="#d3ccff"/><stop offset="0.3333" stop-color="#e0cbff"/><stop offset="0.4167" stop-color="#eecaff"/><stop offset="0.5" stop-color="#fccaff"/><stop offset="0.5833" stop-color="#ffc1f4"/><stop offset="0.6667" stop-color="#ffb6e8"/><stop offset="0.75" stop-color="#ffacdc"/><stop offset="0.8333" stop-color="#ffa3d1"/><stop offset="0.9167" stop-color="#ff9bc7"/><stop offset="1" stop-color="#ff93be"/></linearGradient>
<linearGradient id="c88"><stop offset="0" stop-color="#adccff"/><stop offset="0.08333" stop-color="#baccff"/><stop offset="0.1667" stop-color="#c6cbff"/><stop offset="0.25" stop-color="#d3cbff"/><stop offset="0.3333" stop-color="#e0caff"/><stop offset="0.4167" stop-color="#eec9ff"/><stop offset="0.5" stop-color="#fcc9ff"/><stop offset="0.5833" stop-color="#ffc0f4"/><stop offset="0.6667" stop-color="#ffb5e8"/><stop offset="0.75" stop-color="#ffabdc"/><stop offset="0.8333" stop-color="#ffa2d1"/><stop offset="0.9167" stop-color="#ff9ac7"/><stop offset="1" stop-color="#ff92be"/></linearGradient>
</defs>
<clipPath id="cg"><rect x="381.5" y="652.5" width="245.0" height="177.0"/></clipPath><g clip-path="url(#cg)">
<rect x="381" y="652" width="246" height="2" fill="url(#c0)" />
<rect x="381" y="654" width="246" height="2" fill="url(#c1)" />
<rect x="381" y="656" width="246" height="2" fill="url(#c2)" />
<rect x="381" y="658" width="246" height="2" fill="url(#c3)" />
<rect x="381" y="660" width="246" height="2" fill="url(#c4)" />
<rect x="381" y="662" width="246" height="2" fill="url(#c5)" />
<rect x="381" y="664" width="246" height="2" fill="url(#c6)" />
<rect x="381" y="666" width="246" height="2" fill="url(#c7)" />
<rect x="381" y="668" width="246" height="2" fill="url(#c8)" />
<rect x="381" y="670" width="246" height="2" fill="url(#c9)" />
<rect x="381" y="672" width="246" height="2" fill="url(#c10)" />
<rect x="381" y="674" width="246" height="2" fill="url(#c11)" />
<rect x="381" y="676" width="246" height="2" fill="url(#c12)" />
<rect x="381" y="678" width="246" height="2" fill="url(#c13)" />
<rect x="381" y="680" width="246" height="2" fill="url(#c14)" />
<rect x="381" y="682" width="246" height="2" fill="url(#c15)" />
<rect x="381" y="684" width="246" height="2" fill="url(#c16)" />
<rect x="381" y="686" width="246" height="2" fill="url(#c17)" />
<rect x="381" y="688" width="246" height="2" fill="url(#c18)" />
<rect x="381" y="690" width="246" height="2" fill="url(#c19)" />
<rect x="381" y="692" width="246" height="2" fill="url(#c20)" />
<rect x="381" y="694" width="246" height="2" fill="url(#c21)" />
<rect x="381" y="696" width="246" height="2" fill="url(#c22)" />
<rect x="381" y="698" width="246" height="2" fill="url(#c23)" />
<rect x="381" y="700" width="246" height="2" fill="url(#c24)" />
<rect x="381" y="702" width="246" height="2" fill="url(#c25)" />
<rect x="381" y="704" width="246" height="2" fill="url(#c26)" />
<rect x="381" y="706" width="246" height="2" fill="url(#c27)" />
<rect x="381" y="708" width="246" height="2" fill="url(#c28)" />
<rect x="381" y="710" width="246" height="2" fill="url(#c29)" />
<rect x="381" y="712" width="246" height="2" fill="url(#c30)" />
<rect x="381" y="714" width="246" height="2" fill="url(#c31)" />
<rect x="381" y="716" width="246" height="2" fill="url(#c32)" />
<rect x="381" y="718" width="246" height="2" fill="url(#c33)" />
<rect x="381" y="720" width="246" height="2" fill="url(#c34)" />
<rect x="381" y="722" width="246" height="2" fill="url(#c35)" />
<rect x="381" y="724" width="246" height="2" fill="url(#c36)" />
<rect x="381" y="726" width="246" height="2" fill="url(#c37)" />
<rect x="381" y="728" width="246" height="2" fill="url(#c38)" />
<rect x="381" y="730" width="246" height="2" fill="url(#c39)" />
<rect x="381" y="732" width="246" height="2" fill="url(#c40)" />
<rect x="381" y="734" width="246" height="2" fill="url(#c41)" />
<rect x="381" y="736" width="246" height="2" fill="url(#c42)" />
<rect x="381" y="738" width="246" height="2" fill="url(#c43)" />
<rect x="381" y="740" width="246" height="2" fill="url(#c44)" />
<rect x="381" y="742" width="246" height="2" fill="url(#c45)" />
<rect x="381" y="744" width="246" height="2" fill="url(#c46)" />
<rect x="381" y="746" width="246" height="2" fill="url(#c47)" />
<rect x="381" y="748" width="246" height="2" fill="url(#c48)" />
<rect x="381" y="750" width="246" height="2" fill="url(#c49)" />
<rect x="381" y="752" width="246" height="2" fill="url(#c50)" />
<rect x="381" y="754" width="246" height="2" fill="url(#c51)" />
<rect x="381" y="756" width="246" height="2" fill="url(#c52)" />
<rect x="381" y="758" width="246" height="2" fill="url(#c53)" />
<rect x="381" y="760" width="246" height="2" fill="url(#c54)" />
<rect x="381" y="762" width="246" height="2" fill="url(#c55)" />
<rect x="381" y="764" width="246" height="2" fill="url(#c56)" />
<rect x="381" y="766" width="246" height="2" fill="url(#c57)" />
<rect x="381" y="768" width="246" height="2" fill="url(#c58)" />
<rect x="381" y="770" width="246" height="2" fill="url(#c59)" />
<rect x="381" y="772" width="246" height="2" fill="url(#c60)" />
<rect x="381" y="774" width="246" height="2" fill="url(#c61)" />
<rect x="381" y="776" width="246" height="2" fill="url(#c62)" />
<rect x="381" y="778" width="246" height="2" fill="url(#c63)" />
<rect x="381" y="780" width="246" height="2" fill="url(#c64)" />
<rect x="381" y="782" width="246" height="2" fill="url(#c65)" />
<rect x="381" y="784" width="246" height="2" fill="url(#c66)" />
<rect x="381" y="786" width="246" height="2" fill="url(#c67)" />
<rect x="381" y="788" width="246" height="2" fill="url(#c68)" />
<rect x="381" y="790" width="246" height="2" fill="url(#c69)" />
<rect x="381" y="792" width="246" height="2" fill="url(#c70)" />
<rect x="381" y="794" width="246" height="2" fill="url(#c71)" />
<rect x="381" y="796" width="246" height="2" fill="url(#c72)" />
<rect x="381" y="798" width="246" height="2" fill="url(#c73)" />
<rect x="381" y="800" width="246" height="2" fill="url(#c74)" />
<rect x="381" y="802" width="246" height="2" fill="url(#c75)" />
<rect x="381" y="804" width="246" height="2" fill="url(#c76)" />
<rect x="381" y="806" width="246" height="2" fill="url(#c77)" />
<rect x="381" y="808" width="246" height="2" fill="url(#c78)" />
<rect x="381" y="810" width="246" height="2" fill="url(#c79)" />
<rect x="381" y="812" width="246" height="2" fill="url(#c80)" />
<rect x="381" y="814" width="246" height="2" fill="url(#c81)" />
<rect x="381" y="816" width="246" height="2" fill="url(#c82)" />
<rect x="381" y="818" width="246" height="2" fill="url(#c83)" />
<rect x="381" y="820" width="246" height="2" fill="url(#c84)" />
<rect x="381" y="822" width="246" height="2" fill="url(#c85)" />
<rect x="381" y="824" width="246" height="2" fill="url(#c86)" />
<rect x="381" y="826" width="246" height="2" fill="url(#c87)" />
<rect x="381" y="828" width="246" height="2" fill="url(#c88)" />
</g>
<rect x="381.5" y="652.5" width="245.0" height="177.0" fill="none" stroke="#a8a8a8" stroke-width="1"/>
<clipPath id="cc"><rect x="381.5" y="652.5" width="245.0" height="177.0"/></clipPath>
<polyline points="689.5,645.1 674.8,653.3 660.8,661.4 647.3,669.2 634.4,676.9 622.1,684.4 610.2,691.6 598.9,698.7 588.0,705.6 577.5,712.4 567.4,718.9 557.7,725.3 548.4,731.5 539.4,737.6 530.8,743.5 522.5,749.2 514.4,754.8 506.7,760.2 499.2,765.5 492.0,770.7 485.1,775.7 478.4,780.6 471.9,785.4 465.6,790.1 459.5,794.6 453.6,799.0 448.0,803.3 442.4,807.5 437.1,811.6 431.9,815.6 426.9,819.5 422.1,823.3 417.4,827.0 412.8,830.6 408.3,834.1 404.0,837.6 399.8,840.9 395.8,844.2 391.8,847.4 388.0,850.6 384.2,853.6 380.6,856.6" fill="none" stroke="#000" stroke-width="3" clip-path="url(#cc)"/>
<circle cx="490.9" cy="740.9" r="4.8" fill="#1a1a1a"/>
<rect x="497.2" y="734.1" width="12.7" height="12.8" fill="#fff" stroke="#000" stroke-width="2"/>
<circle cx="523.3" cy="713.3" r="4.4" fill="#1a1a1a" stroke="#111" stroke-width="0.9"/>
<circle cx="522.3" cy="714.2" r="4.4" fill="#333" stroke="#111" stroke-width="0.9"/>
<circle cx="515.8" cy="716.0" r="4.4" fill="#2b2b2b" stroke="#111" stroke-width="0.9"/>
<circle cx="521.5" cy="714.8" r="4.4" fill="#555" stroke="#111" stroke-width="0.9"/>
<circle cx="521.2" cy="715.5" r="4.4" fill="#777" stroke="#111" stroke-width="0.9"/>
<circle cx="520.8" cy="715.9" r="4.4" fill="#999" stroke="#111" stroke-width="0.9"/>
<circle cx="520.4" cy="716.3" r="4.4" fill="#b0b0b0" stroke="#111" stroke-width="0.9"/>
<circle cx="517.9" cy="719.3" r="4.4" fill="#c8c8c8" stroke="#111" stroke-width="0.9"/>
<circle cx="513" cy="722.5" r="4.4" fill="#e2e2e2" stroke="#111" stroke-width="0.9"/>
<circle cx="505.9" cy="729.2" r="4.4" fill="#fff" stroke="#111" stroke-width="0.9"/>
<line x1="375" y1="666.4" x2="381" y2="666.4" stroke="#ddd" stroke-width="1.1" />
<text transform="translate(375.2,671.6) scale(1.04,1)" font-size="15" fill="#e6e6e6" text-anchor="end" >0,35</text>
<line x1="375" y1="702.6" x2="381" y2="702.6" stroke="#ddd" stroke-width="1.1" />
<text transform="translate(375.2,707.8) scale(1.04,1)" font-size="15" fill="#e6e6e6" text-anchor="end" >0,34</text>
<line x1="375" y1="737.8" x2="381" y2="737.8" stroke="#ddd" stroke-width="1.1" />
<text transform="translate(375.2,743) scale(1.04,1)" font-size="15" fill="#e6e6e6" text-anchor="end" >0,33</text>
<line x1="375" y1="772.8" x2="381" y2="772.8" stroke="#ddd" stroke-width="1.1" />
<text transform="translate(375.2,778) scale(1.04,1)" font-size="15" fill="#e6e6e6" text-anchor="end" >0,32</text>
<line x1="375" y1="807.9" x2="381" y2="807.9" stroke="#ddd" stroke-width="1.1" />
<text transform="translate(375.2,813.1) scale(1.04,1)" font-size="15" fill="#e6e6e6" text-anchor="end" >0,31</text>
<line x1="391.76" y1="830" x2="391.76" y2="835.5" stroke="#ddd" stroke-width="1.4" />
<text transform="translate(391.76,851.8) scale(1.04,1)" font-size="15" fill="#e6e6e6" text-anchor="middle" >0,29</text>
<line x1="440.68" y1="830" x2="440.68" y2="835.5" stroke="#ddd" stroke-width="1.4" />
<text transform="translate(440.68,851.8) scale(1.04,1)" font-size="15" fill="#e6e6e6" text-anchor="middle" >0,3</text>
<line x1="489.6" y1="830" x2="489.6" y2="835.5" stroke="#ddd" stroke-width="1.4" />
<text transform="translate(489.6,851.8) scale(1.04,1)" font-size="15" fill="#e6e6e6" text-anchor="middle" >0,31</text>
<line x1="538.52" y1="830" x2="538.52" y2="835.5" stroke="#ddd" stroke-width="1.4" />
<text transform="translate(538.52,851.8) scale(1.04,1)" font-size="15" fill="#e6e6e6" text-anchor="middle" >0,32</text>
<line x1="587.44" y1="830" x2="587.44" y2="835.5" stroke="#ddd" stroke-width="1.4" />
<text transform="translate(587.44,851.8) scale(1.04,1)" font-size="15" fill="#e6e6e6" text-anchor="middle" >0,33</text>
<defs><linearGradient id="th" x1="0" x2="0" y1="0" y2="1"><stop offset="0" stop-color="#303030"/><stop offset="0.51" stop-color="#2a2a2a"/><stop offset="0.51" stop-color="#191919"/><stop offset="1" stop-color="#080808"/></linearGradient><linearGradient id="rh" x1="0" x2="0" y1="0" y2="1"><stop offset="0" stop-color="#2c2c2c"/><stop offset="1" stop-color="#1c1c1c"/></linearGradient></defs>
<rect x="638" y="643" width="814" height="29" fill="url(#th)" />
<rect x="638" y="643" width="13" height="29" fill="#000" />
<text transform="translate(775.5,663) scale(0.925,1)" font-size="15.8" fill="#fafafa" text-anchor="start" >0</text>
<text transform="translate(845.5,663) scale(0.925,1)" font-size="15.8" fill="#fafafa" text-anchor="start" >10</text>
<text transform="translate(906.5,663) scale(0.925,1)" font-size="15.8" fill="#fafafa" text-anchor="start" >20</text>
<text transform="translate(967.5,663) scale(0.925,1)" font-size="15.8" fill="#fafafa" text-anchor="start" >30</text>
<text transform="translate(1028.5,663) scale(0.925,1)" font-size="15.8" fill="#fafafa" text-anchor="start" >40</text>
<text transform="translate(1089.5,663) scale(0.925,1)" font-size="15.8" fill="#fafafa" text-anchor="start" >50</text>
<text transform="translate(1150.5,663) scale(0.925,1)" font-size="15.8" fill="#fafafa" text-anchor="start" >60</text>
<text transform="translate(1211.5,663) scale(0.925,1)" font-size="15.8" fill="#fafafa" text-anchor="start" >70</text>
<text transform="translate(1272.5,663) scale(0.925,1)" font-size="15.8" fill="#fafafa" text-anchor="start" >80</text>
<text transform="translate(1333.5,663) scale(0.925,1)" font-size="15.8" fill="#fafafa" text-anchor="start" >90</text>
<text transform="translate(1394.5,663) scale(0.925,1)" font-size="15.8" fill="#fafafa" text-anchor="start" >100</text>
<rect x="638" y="672" width="814" height="27" fill="#404040" />
<rect x="638" y="672" width="13" height="27" fill="url(#rh)" />
<text x="654.8" y="691.7" font-size="15.8" fill="#fcfcfc" text-anchor="start" textLength="51" lengthAdjust="spacingAndGlyphs" >x: CIE31</text>
<text transform="translate(775.5,691.7) scale(0.925,1)" font-size="15.8" fill="#fcfcfc" text-anchor="start" >0,25</text>
<text transform="translate(845.5,691.7) scale(0.925,1)" font-size="15.8" fill="#fcfcfc" text-anchor="start" >0,31</text>
<text transform="translate(906.5,691.7) scale(0.925,1)" font-size="15.8" fill="#fcfcfc" text-anchor="start" >0,32</text>
<text transform="translate(967.5,691.7) scale(0.925,1)" font-size="15.8" fill="#fcfcfc" text-anchor="start" >0,32</text>
<text transform="translate(1028.5,691.7) scale(0.925,1)" font-size="15.8" fill="#fcfcfc" text-anchor="start" >0,32</text>
<text transform="translate(1089.5,691.7) scale(0.925,1)" font-size="15.8" fill="#fcfcfc" text-anchor="start" >0,32</text>
<text transform="translate(1150.5,691.7) scale(0.925,1)" font-size="15.8" fill="#fcfcfc" text-anchor="start" >0,32</text>
<text transform="translate(1211.5,691.7) scale(0.925,1)" font-size="15.8" fill="#fcfcfc" text-anchor="start" >0,32</text>
<text transform="translate(1272.5,691.7) scale(0.925,1)" font-size="15.8" fill="#fcfcfc" text-anchor="start" >0,32</text>
<text transform="translate(1333.5,691.7) scale(0.925,1)" font-size="15.8" fill="#fcfcfc" text-anchor="start" >0,31</text>
<text transform="translate(1394.5,691.7) scale(0.925,1)" font-size="15.8" fill="#fcfcfc" text-anchor="start" >0,31</text>
<rect x="638" y="699" width="814" height="26" fill="#808080" />
<rect x="638" y="699" width="13" height="26" fill="url(#rh)" />
<text x="654.8" y="717.7" font-size="15.8" fill="#f2f2f2" text-anchor="start" textLength="51" lengthAdjust="spacingAndGlyphs" >y: CIE31</text>
<text transform="translate(775.5,717.7) scale(0.925,1)" font-size="15.8" fill="#f2f2f2" text-anchor="start" >0,25</text>
<text transform="translate(845.5,717.7) scale(0.925,1)" font-size="15.8" fill="#f2f2f2" text-anchor="start" >0,33</text>
<text transform="translate(906.5,717.7) scale(0.925,1)" font-size="15.8" fill="#f2f2f2" text-anchor="start" >0,34</text>
<text transform="translate(967.5,717.7) scale(0.925,1)" font-size="15.8" fill="#f2f2f2" text-anchor="start" >0,34</text>
<text transform="translate(1028.5,717.7) scale(0.925,1)" font-size="15.8" fill="#f2f2f2" text-anchor="start" >0,34</text>
<text transform="translate(1089.5,717.7) scale(0.925,1)" font-size="15.8" fill="#f2f2f2" text-anchor="start" >0,34</text>
<text transform="translate(1150.5,717.7) scale(0.925,1)" font-size="15.8" fill="#f2f2f2" text-anchor="start" >0,34</text>
<text transform="translate(1211.5,717.7) scale(0.925,1)" font-size="15.8" fill="#f2f2f2" text-anchor="start" >0,34</text>
<text transform="translate(1272.5,717.7) scale(0.925,1)" font-size="15.8" fill="#f2f2f2" text-anchor="start" >0,33</text>
<text transform="translate(1333.5,717.7) scale(0.925,1)" font-size="15.8" fill="#f2f2f2" text-anchor="start" >0,33</text>
<text transform="translate(1394.5,717.7) scale(0.925,1)" font-size="15.8" fill="#f2f2f2" text-anchor="start" >0,33</text>
<rect x="638" y="725" width="814" height="27" fill="#404040" />
<rect x="638" y="725" width="13" height="27" fill="url(#rh)" />
<text x="654.8" y="744.7" font-size="15.8" fill="#fcfcfc" text-anchor="start" textLength="9.2" lengthAdjust="spacingAndGlyphs" >Y</text>
<text transform="translate(775.5,744.7) scale(0.925,1)" font-size="15.8" fill="#fcfcfc" text-anchor="start" >0,13</text>
<text transform="translate(845.5,744.7) scale(0.925,1)" font-size="15.8" fill="#fcfcfc" text-anchor="start" >1,85</text>
<text transform="translate(906.5,744.7) scale(0.925,1)" font-size="15.8" fill="#fcfcfc" text-anchor="start" >7,24</text>
<text transform="translate(967.5,744.7) scale(0.925,1)" font-size="15.8" fill="#fcfcfc" text-anchor="start" >17,72</text>
<text transform="translate(1028.5,744.7) scale(0.925,1)" font-size="15.8" fill="#fcfcfc" text-anchor="start" >34,81</text>
<text transform="translate(1089.5,744.7) scale(0.925,1)" font-size="15.8" fill="#fcfcfc" text-anchor="start" >58,40</text>
<text transform="translate(1150.5,744.7) scale(0.925,1)" font-size="15.8" fill="#fcfcfc" text-anchor="start" >84,94</text>
<text transform="translate(1211.5,744.7) scale(0.925,1)" font-size="15.8" fill="#fcfcfc" text-anchor="start" >116,61</text>
<text transform="translate(1272.5,744.7) scale(0.925,1)" font-size="15.8" fill="#fcfcfc" text-anchor="start" >160,98</text>
<text transform="translate(1333.5,744.7) scale(0.925,1)" font-size="15.8" fill="#fcfcfc" text-anchor="start" >214,92</text>
<text transform="translate(1394.5,744.7) scale(0.925,1)" font-size="15.8" fill="#fcfcfc" text-anchor="start" >265,09</text>
<rect x="638" y="752" width="814" height="27" fill="#808080" />
<rect x="638" y="752" width="13" height="27" fill="url(#rh)" />
<text x="654.8" y="771.7" font-size="15.8" fill="#f2f2f2" text-anchor="start" textLength="53.6" lengthAdjust="spacingAndGlyphs" >Target Y</text>
<text transform="translate(775.5,771.7) scale(0.925,1)" font-size="15.8" fill="#f2f2f2" text-anchor="start" >0,00</text>
<text transform="translate(845.5,771.7) scale(0.925,1)" font-size="15.8" fill="#f2f2f2" text-anchor="start" >2,74</text>
<text transform="translate(906.5,771.7) scale(0.925,1)" font-size="15.8" fill="#f2f2f2" text-anchor="start" >8,78</text>
<text transform="translate(967.5,771.7) scale(0.925,1)" font-size="15.8" fill="#f2f2f2" text-anchor="start" >19,16</text>
<text transform="translate(1028.5,771.7) scale(0.925,1)" font-size="15.8" fill="#f2f2f2" text-anchor="start" >35,22</text>
<text transform="translate(1089.5,771.7) scale(0.925,1)" font-size="15.8" fill="#f2f2f2" text-anchor="start" >57,22</text>
<text transform="translate(1150.5,771.7) scale(0.925,1)" font-size="15.8" fill="#f2f2f2" text-anchor="start" >84,44</text>
<text transform="translate(1211.5,771.7) scale(0.925,1)" font-size="15.8" fill="#f2f2f2" text-anchor="start" >118,02</text>
<text transform="translate(1272.5,771.7) scale(0.925,1)" font-size="15.8" fill="#f2f2f2" text-anchor="start" >160,07</text>
<text transform="translate(1333.5,771.7) scale(0.925,1)" font-size="15.8" fill="#f2f2f2" text-anchor="start" >209,76</text>
<text transform="translate(1394.5,771.7) scale(0.925,1)" font-size="15.8" fill="#f2f2f2" text-anchor="start" >265,09</text>
<rect x="638" y="779" width="814" height="26" fill="#404040" />
<rect x="638" y="779" width="13" height="26" fill="url(#rh)" />
<text x="654.8" y="797.7" font-size="15.8" fill="#fcfcfc" text-anchor="start" textLength="111.5" lengthAdjust="spacingAndGlyphs" >Gamma Log/Log</text>
<text transform="translate(775.5,797.7) scale(0.925,1)" font-size="15.8" fill="#fcfcfc" text-anchor="start" >1,28</text>
<text transform="translate(845.5,797.7) scale(0.925,1)" font-size="15.8" fill="#fcfcfc" text-anchor="start" >2,18</text>
<text transform="translate(906.5,797.7) scale(0.925,1)" font-size="15.8" fill="#fcfcfc" text-anchor="start" >2,24</text>
<text transform="translate(967.5,797.7) scale(0.925,1)" font-size="15.8" fill="#fcfcfc" text-anchor="start" >2,24</text>
<text transform="translate(1028.5,797.7) scale(0.925,1)" font-size="15.8" fill="#fcfcfc" text-anchor="start" >2,22</text>
<text transform="translate(1089.5,797.7) scale(0.925,1)" font-size="15.8" fill="#fcfcfc" text-anchor="start" >2,19</text>
<text transform="translate(1150.5,797.7) scale(0.925,1)" font-size="15.8" fill="#fcfcfc" text-anchor="start" >2,23</text>
<text transform="translate(1211.5,797.7) scale(0.925,1)" font-size="15.8" fill="#fcfcfc" text-anchor="start" >2,28</text>
<text transform="translate(1272.5,797.7) scale(0.925,1)" font-size="15.8" fill="#fcfcfc" text-anchor="start" >2,24</text>
<text transform="translate(1333.5,797.7) scale(0.925,1)" font-size="15.8" fill="#fcfcfc" text-anchor="start" >2,03</text>
<text transform="translate(1394.5,797.7) scale(0.925,1)" font-size="15.8" fill="#fcfcfc" text-anchor="start" >2,27</text>
<rect x="638" y="805" width="814" height="27" fill="#808080" />
<rect x="638" y="805" width="13" height="27" fill="url(#rh)" />
<text x="654.8" y="824.7" font-size="15.8" fill="#f2f2f2" text-anchor="start" textLength="25.8" lengthAdjust="spacingAndGlyphs" >CCT</text>
<text transform="translate(775.5,824.7) scale(0.925,1)" font-size="15.8" fill="#f2f2f2" text-anchor="start" >20802,00</text>
<text transform="translate(845.5,824.7) scale(0.925,1)" font-size="15.8" fill="#f2f2f2" text-anchor="start" >6651,00</text>
<text transform="translate(906.5,824.7) scale(0.925,1)" font-size="15.8" fill="#f2f2f2" text-anchor="start" >6320,00</text>
<text transform="translate(967.5,824.7) scale(0.925,1)" font-size="15.8" fill="#f2f2f2" text-anchor="start" >6250,00</text>
<text transform="translate(1028.5,824.7) scale(0.925,1)" font-size="15.8" fill="#f2f2f2" text-anchor="start" >6251,00</text>
<text transform="translate(1089.5,824.7) scale(0.925,1)" font-size="15.8" fill="#f2f2f2" text-anchor="start" >6263,00</text>
<text transform="translate(1150.5,824.7) scale(0.925,1)" font-size="15.8" fill="#f2f2f2" text-anchor="start" >6280,00</text>
<text transform="translate(1211.5,824.7) scale(0.925,1)" font-size="15.8" fill="#f2f2f2" text-anchor="start" >6291,00</text>
<text transform="translate(1272.5,824.7) scale(0.925,1)" font-size="15.8" fill="#f2f2f2" text-anchor="start" >6315,00</text>
<text transform="translate(1333.5,824.7) scale(0.925,1)" font-size="15.8" fill="#f2f2f2" text-anchor="start" >6361,00</text>
<text transform="translate(1394.5,824.7) scale(0.925,1)" font-size="15.8" fill="#f2f2f2" text-anchor="start" >6455,00</text>
<rect x="638" y="832" width="814" height="26" fill="#404040" />
<rect x="638" y="832" width="13" height="26" fill="url(#rh)" />
<text x="654.8" y="850.7" font-size="15.8" fill="#fcfcfc" text-anchor="start" textLength="54.2" lengthAdjust="spacingAndGlyphs" >ΔE 2000</text>
<text transform="translate(775.5,850.7) scale(0.925,1)" font-size="15.8" fill="#fcfcfc" text-anchor="start" >0,65</text>
<text transform="translate(845.5,850.7) scale(0.925,1)" font-size="15.8" fill="#fcfcfc" text-anchor="start" >1,85</text>
<text transform="translate(906.5,850.7) scale(0.925,1)" font-size="15.8" fill="#fcfcfc" text-anchor="start" >1,94</text>
<text transform="translate(967.5,850.7) scale(0.925,1)" font-size="15.8" fill="#fcfcfc" text-anchor="start" >1,98</text>
<text transform="translate(1028.5,850.7) scale(0.925,1)" font-size="15.8" fill="#fcfcfc" text-anchor="start" >2,13</text>
<text transform="translate(1089.5,850.7) scale(0.925,1)" font-size="15.8" fill="#fcfcfc" text-anchor="start" >2,46</text>
<text transform="translate(1150.5,850.7) scale(0.925,1)" font-size="15.8" fill="#fcfcfc" text-anchor="start" >2,60</text>
<text transform="translate(1211.5,850.7) scale(0.925,1)" font-size="15.8" fill="#fcfcfc" text-anchor="start" >2,79</text>
<text transform="translate(1272.5,850.7) scale(0.925,1)" font-size="15.8" fill="#fcfcfc" text-anchor="start" >2,82</text>
<text transform="translate(1333.5,850.7) scale(0.925,1)" font-size="15.8" fill="#fcfcfc" text-anchor="start" >2,74</text>
<text transform="translate(1394.5,850.7) scale(0.925,1)" font-size="15.8" fill="#fcfcfc" text-anchor="start" >2,01</text></svg>
</body></html>
